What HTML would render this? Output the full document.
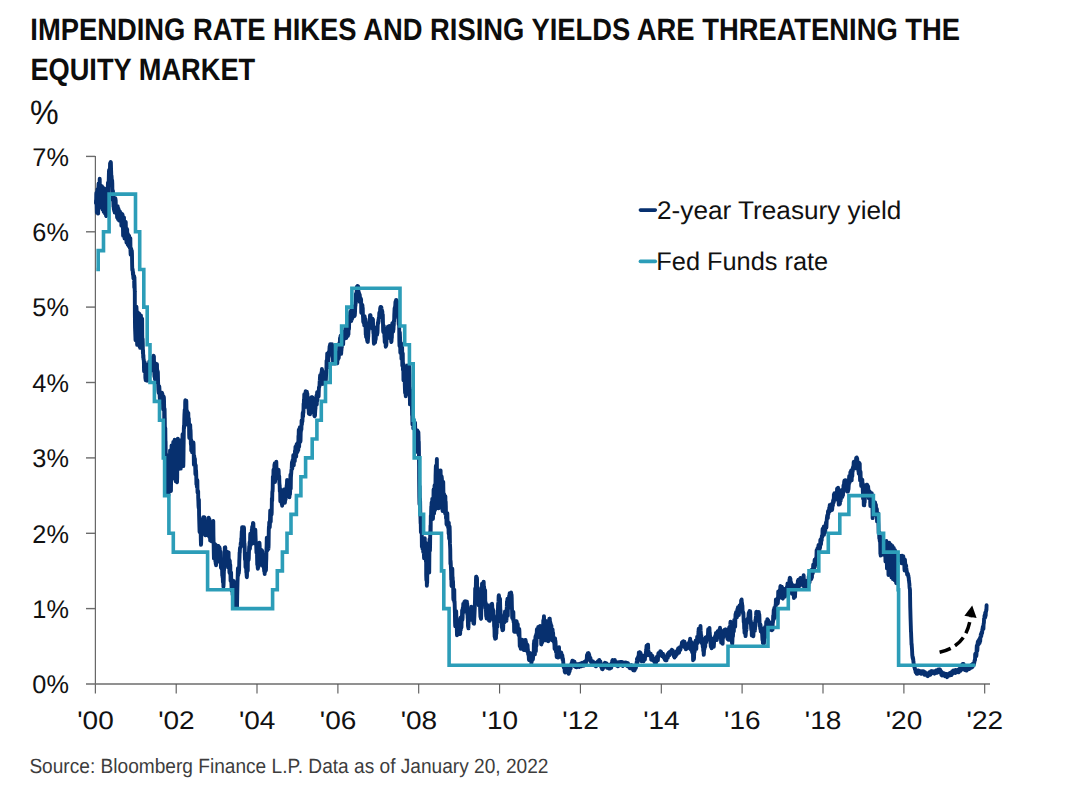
<!DOCTYPE html>
<html><head><meta charset="utf-8"><title>Chart</title>
<style>
html,body{margin:0;padding:0;background:#fff;}
body{width:1065px;height:796px;overflow:hidden;font-family:"Liberation Sans",sans-serif;}
svg{display:block;}
text{font-family:"Liberation Sans",sans-serif;fill:#111;text-rendering:geometricPrecision;}
.ttl{font-weight:bold;fill:#0d0d0d;}
.src{fill:#3d3d3d;}
.ax path{stroke:#6c6c6c;stroke-width:1.4;fill:none;}
.ax path.v{stroke:#575757;stroke-width:1.1;}
</style></head>
<body>
<svg width="1065" height="796" viewBox="0 0 1065 796">
<rect width="1065" height="796" fill="#ffffff"/>
<text class="ttl" x="30.35" y="40.40" style="font-size:31px" textLength="929.69" lengthAdjust="spacingAndGlyphs">IMPENDING RATE HIKES AND RISING YIELDS ARE THREATENING THE</text>
<text class="ttl" x="30.38" y="79.90" style="font-size:31px" textLength="224.86" lengthAdjust="spacingAndGlyphs">EQUITY MARKET</text>
<text class="" x="30.10" y="124.30" style="font-size:34px" textLength="28.64" lengthAdjust="spacingAndGlyphs">%</text>
<g class="ax"><path class="v" d="M95.35000000000001 156.1 V693.4" /><path d="M86 683.95 H990" /><path d="M86 608.6 H95.2" /><path d="M86 533.3 H95.2" /><path d="M86 457.9 H95.2" /><path d="M86 382.5 H95.2" /><path d="M86 307.1 H95.2" /><path d="M86 231.8 H95.2" /><path d="M86 156.4 H95.2" /><path class="v" d="M176.2 684.0 V693.4" /><path class="v" d="M257.0 684.0 V693.4" /><path class="v" d="M337.9 684.0 V693.4" /><path class="v" d="M418.7 684.0 V693.4" /><path class="v" d="M499.6 684.0 V693.4" /><path class="v" d="M580.4 684.0 V693.4" /><path class="v" d="M661.3 684.0 V693.4" /><path class="v" d="M742.1 684.0 V693.4" /><path class="v" d="M823.0 684.0 V693.4" /><path class="v" d="M903.9 684.0 V693.4" /><path class="v" d="M984.7 684.0 V693.4" /></g>
<g><text class="lbl" x="32.35" y="693.3" style="font-size:25.6px" textLength="36.55" lengthAdjust="spacingAndGlyphs">0%</text><text class="lbl" x="32.35" y="617.9" style="font-size:25.6px" textLength="36.55" lengthAdjust="spacingAndGlyphs">1%</text><text class="lbl" x="32.35" y="542.6" style="font-size:25.6px" textLength="36.55" lengthAdjust="spacingAndGlyphs">2%</text><text class="lbl" x="32.35" y="467.2" style="font-size:25.6px" textLength="36.55" lengthAdjust="spacingAndGlyphs">3%</text><text class="lbl" x="32.35" y="391.8" style="font-size:25.6px" textLength="36.55" lengthAdjust="spacingAndGlyphs">4%</text><text class="lbl" x="32.35" y="316.4" style="font-size:25.6px" textLength="36.55" lengthAdjust="spacingAndGlyphs">5%</text><text class="lbl" x="32.35" y="241.1" style="font-size:25.6px" textLength="36.55" lengthAdjust="spacingAndGlyphs">6%</text><text class="lbl" x="32.35" y="165.7" style="font-size:25.6px" textLength="36.55" lengthAdjust="spacingAndGlyphs">7%</text><text class="lbl" x="95.5" y="729.1" style="font-size:25.6px" text-anchor="middle" textLength="36.50" lengthAdjust="spacingAndGlyphs">&#39;00</text><text class="lbl" x="176.4" y="729.1" style="font-size:25.6px" text-anchor="middle" textLength="36.50" lengthAdjust="spacingAndGlyphs">&#39;02</text><text class="lbl" x="257.2" y="729.1" style="font-size:25.6px" text-anchor="middle" textLength="36.50" lengthAdjust="spacingAndGlyphs">&#39;04</text><text class="lbl" x="338.1" y="729.1" style="font-size:25.6px" text-anchor="middle" textLength="36.50" lengthAdjust="spacingAndGlyphs">&#39;06</text><text class="lbl" x="418.9" y="729.1" style="font-size:25.6px" text-anchor="middle" textLength="36.50" lengthAdjust="spacingAndGlyphs">&#39;08</text><text class="lbl" x="499.8" y="729.1" style="font-size:25.6px" text-anchor="middle" textLength="36.50" lengthAdjust="spacingAndGlyphs">&#39;10</text><text class="lbl" x="580.6" y="729.1" style="font-size:25.6px" text-anchor="middle" textLength="36.50" lengthAdjust="spacingAndGlyphs">&#39;12</text><text class="lbl" x="661.4" y="729.1" style="font-size:25.6px" text-anchor="middle" textLength="36.50" lengthAdjust="spacingAndGlyphs">&#39;14</text><text class="lbl" x="742.3" y="729.1" style="font-size:25.6px" text-anchor="middle" textLength="36.50" lengthAdjust="spacingAndGlyphs">&#39;16</text><text class="lbl" x="823.1" y="729.1" style="font-size:25.6px" text-anchor="middle" textLength="36.50" lengthAdjust="spacingAndGlyphs">&#39;18</text><text class="lbl" x="904.0" y="729.1" style="font-size:25.6px" text-anchor="middle" textLength="36.50" lengthAdjust="spacingAndGlyphs">&#39;20</text><text class="lbl" x="984.8" y="729.1" style="font-size:25.6px" text-anchor="middle" textLength="36.50" lengthAdjust="spacingAndGlyphs">&#39;22</text></g>
<path d="M95.93 203.1 L96.06 200.2 L96.18 201.6 L96.31 194.2 L96.45 192.6 L96.59 199.5 L96.73 207.5 L96.88 212.8 L97.02 202.8 L97.16 193.0 L97.30 193.9 L97.44 189.2 L97.58 201.4 L97.72 207.0 L97.87 207.8 L98.01 209.6 L98.15 213.6 L98.29 199.0 L98.43 186.5 L98.57 183.5 L98.71 189.7 L98.85 194.2 L99.00 200.6 L99.14 207.7 L99.28 204.1 L99.42 200.4 L99.56 191.4 L99.70 178.8 L99.84 187.2 L99.99 187.5 L100.13 196.3 L100.27 204.1 L100.41 196.8 L100.55 189.8 L100.69 187.8 L100.83 187.9 L100.98 195.8 L101.12 201.7 L101.26 197.9 L101.40 204.9 L101.54 202.3 L101.68 196.1 L101.82 192.6 L101.97 186.2 L102.11 187.6 L102.25 197.3 L102.39 198.9 L102.53 209.4 L102.67 203.2 L102.81 200.3 L102.95 193.3 L103.10 187.7 L103.24 192.0 L103.38 202.3 L103.52 205.6 L103.66 211.8 L103.80 210.2 L103.94 202.4 L104.09 191.6 L104.23 188.5 L104.37 197.1 L104.51 208.7 L104.65 208.8 L104.79 213.3 L104.93 210.9 L105.08 204.6 L105.22 198.5 L105.36 191.1 L105.50 194.9 L105.64 197.1 L105.78 203.9 L105.92 214.2 L106.08 215.8 L106.24 216.0 L106.39 213.5 L106.55 208.3 L106.71 207.0 L106.87 202.1 L107.02 200.6 L107.18 193.5 L107.34 200.3 L107.49 195.2 L107.65 194.7 L107.81 188.0 L107.97 182.6 L108.13 191.9 L108.29 192.8 L108.45 185.4 L108.62 183.2 L108.78 178.5 L108.94 172.1 L109.10 169.9 L109.26 170.8 L109.42 173.9 L109.59 172.9 L109.75 169.0 L109.91 172.0 L110.07 163.3 L110.23 168.2 L110.39 172.5 L110.56 169.3 L110.72 161.9 L110.88 162.6 L111.04 168.7 L111.20 172.9 L111.36 181.7 L111.52 175.6 L111.67 177.9 L111.83 182.8 L111.99 182.7 L112.14 180.3 L112.31 183.9 L112.47 198.6 L112.63 200.0 L112.79 191.6 L112.95 190.9 L113.11 194.7 L113.28 200.1 L113.45 206.7 L113.62 203.2 L113.79 209.3 L113.96 204.3 L114.13 210.8 L114.30 204.4 L114.47 207.1 L114.65 212.5 L114.82 211.6 L114.99 209.7 L115.16 202.7 L115.34 198.3 L115.51 199.3 L115.69 200.5 L115.87 207.3 L116.04 206.2 L116.22 211.8 L116.40 211.2 L116.57 209.1 L116.75 210.8 L116.93 213.5 L117.10 217.4 L117.28 212.8 L117.46 212.0 L117.63 206.1 L117.81 218.9 L117.99 218.0 L118.17 219.2 L118.34 214.8 L118.52 208.8 L118.70 213.2 L118.88 215.7 L119.06 220.5 L119.23 217.7 L119.41 211.1 L119.59 211.5 L119.77 211.2 L119.95 215.1 L120.12 215.8 L120.30 219.5 L120.48 217.5 L120.66 212.8 L120.84 213.4 L121.01 213.9 L121.19 217.1 L121.37 225.6 L121.54 216.3 L121.72 214.5 L121.89 219.6 L122.07 215.0 L122.24 214.5 L122.42 214.4 L122.59 215.0 L122.77 223.8 L122.94 227.0 L123.12 235.7 L123.29 229.3 L123.47 221.8 L123.64 223.9 L123.82 217.7 L123.99 217.6 L124.17 228.2 L124.34 233.0 L124.52 238.5 L124.69 236.1 L124.87 230.3 L125.04 232.1 L125.22 231.0 L125.39 227.2 L125.57 222.7 L125.74 222.0 L125.92 229.8 L126.09 236.8 L126.27 234.0 L126.45 242.5 L126.63 241.6 L126.81 236.9 L126.98 229.0 L127.16 229.6 L127.34 241.0 L127.52 241.8 L127.70 244.6 L127.87 233.8 L128.05 234.8 L128.23 235.6 L128.41 241.4 L128.59 245.9 L128.76 235.9 L128.94 235.5 L129.12 235.9 L129.30 238.6 L129.47 239.3 L129.64 242.1 L129.81 247.9 L129.98 241.6 L130.15 238.8 L130.33 238.1 L130.50 251.1 L130.67 254.6 L130.84 250.3 L131.01 250.3 L131.18 248.6 L131.34 252.6 L131.50 253.0 L131.65 253.8 L131.81 250.7 L131.97 253.5 L132.13 264.6 L132.29 270.3 L132.46 269.9 L132.62 269.1 L132.79 271.2 L132.95 274.6 L133.11 272.1 L133.28 276.2 L133.44 278.5 L133.61 276.8 L133.77 276.2 L133.94 275.8 L134.10 276.2 L134.27 287.5 L134.43 277.1 L134.60 283.8 L134.76 291.2 L134.81 291.8 L134.86 313.7 L135.03 327.1 L135.19 331.4 L135.35 335.4 L135.52 340.1 L135.67 333.3 L135.82 335.9 L135.97 325.5 L136.12 312.5 L136.27 311.6 L136.42 306.7 L136.57 309.3 L136.72 330.6 L136.88 338.7 L137.03 341.7 L137.18 344.9 L137.33 341.8 L137.48 337.2 L137.63 316.1 L137.78 312.3 L137.93 313.3 L138.08 329.2 L138.23 324.7 L138.38 340.8 L138.53 342.1 L138.69 334.2 L138.84 327.0 L138.99 322.4 L139.14 314.3 L139.29 313.7 L139.44 328.9 L139.59 346.7 L139.74 332.0 L139.89 334.7 L140.04 340.7 L140.19 347.9 L140.34 342.0 L140.49 327.6 L140.65 329.4 L140.80 320.3 L140.95 315.5 L141.10 320.9 L141.25 328.2 L141.40 336.2 L141.55 343.8 L141.69 335.7 L141.83 332.6 L141.97 322.8 L142.12 318.6 L142.24 335.5 L142.37 342.8 L142.49 346.8 L142.63 338.7 L142.78 343.4 L142.92 353.5 L143.06 350.0 L143.22 357.8 L143.39 354.8 L143.55 359.6 L143.72 359.1 L143.88 362.1 L144.05 371.3 L144.21 365.5 L144.38 368.9 L144.54 367.4 L144.71 362.2 L144.87 371.8 L145.04 365.0 L145.20 367.3 L145.37 378.0 L145.53 378.9 L145.70 380.2 L145.88 379.5 L146.05 380.2 L146.23 377.8 L146.41 368.6 L146.59 370.0 L146.77 370.9 L146.95 371.5 L147.13 380.8 L147.30 375.4 L147.48 367.0 L147.66 365.8 L147.84 365.3 L148.02 366.0 L148.20 364.3 L148.38 377.7 L148.55 374.7 L148.73 376.6 L148.91 376.1 L149.09 366.6 L149.26 361.5 L149.44 366.6 L149.61 374.7 L149.78 369.9 L149.95 368.5 L150.13 365.9 L150.30 367.5 L150.47 371.1 L150.65 365.6 L150.82 359.4 L150.99 358.2 L151.16 368.5 L151.34 370.0 L151.51 370.5 L151.68 368.9 L151.86 365.7 L152.03 358.5 L152.20 364.8 L152.37 358.6 L152.55 358.6 L152.72 361.9 L152.89 366.2 L153.06 357.9 L153.24 360.3 L153.41 356.1 L153.58 355.7 L153.75 356.4 L153.92 356.6 L154.09 370.5 L154.27 371.7 L154.44 376.8 L154.61 375.7 L154.78 371.0 L154.95 379.3 L155.12 367.5 L155.29 373.5 L155.46 375.2 L155.63 366.9 L155.79 370.7 L155.96 369.0 L156.13 363.7 L156.30 376.5 L156.46 382.1 L156.63 379.5 L156.80 374.8 L156.98 364.3 L157.15 376.9 L157.33 379.6 L157.50 370.5 L157.67 377.7 L157.85 371.7 L158.02 379.5 L158.20 385.1 L158.37 389.9 L158.54 391.8 L158.72 393.0 L158.89 389.8 L159.07 386.2 L159.24 386.2 L159.42 388.3 L159.59 393.1 L159.77 398.1 L159.94 398.9 L160.12 401.7 L160.29 401.0 L160.47 394.8 L160.64 398.7 L160.82 394.5 L160.99 401.4 L161.17 400.0 L161.34 398.4 L161.52 397.9 L161.69 394.3 L161.87 392.6 L162.04 398.4 L162.22 398.3 L162.39 393.7 L162.57 399.5 L162.74 398.4 L162.92 398.9 L163.09 409.2 L163.27 396.8 L163.44 397.6 L163.62 396.5 L163.79 397.1 L163.92 397.9 L164.04 400.8 L164.17 409.4 L164.31 426.2 L164.45 421.6 L164.59 408.8 L164.74 419.6 L164.78 417.8 L164.91 433.6 L165.03 427.0 L165.16 435.8 L165.30 428.1 L165.44 440.6 L165.58 441.6 L165.73 454.9 L165.89 453.5 L166.06 454.3 L166.22 466.7 L166.39 474.0 L166.55 472.8 L166.72 466.7 L166.88 463.6 L167.05 474.5 L167.21 492.4 L167.38 483.6 L167.55 477.8 L167.72 476.5 L167.88 474.0 L168.05 474.6 L168.22 481.1 L168.39 495.6 L168.55 492.2 L168.72 476.1 L168.89 478.5 L169.06 475.6 L169.22 463.4 L169.39 455.9 L169.56 457.0 L169.73 462.4 L169.89 460.1 L170.06 450.4 L170.21 457.0 L170.36 467.1 L170.51 473.8 L170.66 490.5 L170.82 490.2 L170.97 491.1 L171.12 474.7 L171.27 473.8 L171.42 458.8 L171.57 445.4 L171.72 449.9 L171.87 446.8 L172.02 451.3 L172.17 478.7 L172.32 478.2 L172.48 478.6 L172.64 475.2 L172.79 468.1 L172.95 464.8 L173.11 451.5 L173.27 442.0 L173.42 455.4 L173.57 456.0 L173.72 452.7 L173.87 462.0 L174.02 472.4 L174.17 468.4 L174.32 456.1 L174.47 444.1 L174.62 439.7 L174.77 442.1 L174.92 450.1 L175.08 456.5 L175.23 462.1 L175.38 470.3 L175.53 476.8 L175.68 481.3 L175.83 456.3 L175.98 461.2 L176.13 450.9 L176.28 440.4 L176.43 464.8 L176.58 463.3 L176.73 481.2 L176.89 482.0 L177.04 482.3 L177.19 476.9 L177.34 450.9 L177.49 447.8 L177.64 443.5 L177.79 438.6 L177.95 454.1 L178.10 453.7 L178.26 455.0 L178.42 458.8 L178.58 459.8 L178.73 469.0 L178.88 462.2 L179.03 460.6 L179.18 451.3 L179.34 446.7 L179.49 440.1 L179.64 445.7 L179.80 445.6 L179.96 454.2 L180.11 454.2 L180.27 458.3 L180.43 467.7 L180.58 455.7 L180.73 468.6 L180.88 458.5 L181.03 450.8 L181.18 443.0 L181.34 455.0 L181.50 462.8 L181.65 462.4 L181.81 454.6 L181.97 457.5 L182.13 466.3 L182.27 456.6 L182.41 444.0 L182.55 434.2 L182.69 434.8 L182.84 436.5 L182.99 438.8 L183.14 445.4 L183.29 466.1 L183.44 460.6 L183.57 449.1 L183.70 440.6 L183.82 428.9 L183.97 425.5 L184.12 428.3 L184.27 420.4 L184.43 414.9 L184.58 412.4 L184.73 409.5 L184.89 416.0 L185.05 415.5 L185.20 402.5 L185.36 400.2 L185.52 400.8 L185.68 405.6 L185.84 407.7 L186.00 413.2 L186.16 411.4 L186.33 400.8 L186.49 409.5 L186.65 413.3 L186.81 417.8 L186.97 410.6 L187.13 415.6 L187.30 414.6 L187.46 414.9 L187.62 421.7 L187.78 424.9 L187.95 420.6 L188.13 413.6 L188.30 412.8 L188.48 422.6 L188.65 424.6 L188.82 418.4 L189.00 423.1 L189.17 435.2 L189.35 438.1 L189.52 435.0 L189.69 426.4 L189.87 425.7 L190.04 429.0 L190.20 424.9 L190.37 429.5 L190.53 429.8 L190.69 434.6 L190.85 443.7 L191.01 444.9 L191.17 439.6 L191.22 450.5 L191.39 441.9 L191.56 444.6 L191.72 449.5 L191.89 443.0 L192.06 452.2 L192.22 447.7 L192.39 449.2 L192.56 445.8 L192.72 444.2 L192.89 442.7 L193.06 442.8 L193.23 444.1 L193.39 442.4 L193.56 444.4 L193.73 453.7 L193.90 464.8 L194.06 455.4 L194.23 456.2 L194.40 462.7 L194.57 458.2 L194.73 463.6 L194.90 458.8 L195.07 464.9 L195.24 467.8 L195.40 474.3 L195.57 473.6 L195.74 465.2 L195.91 472.1 L196.07 470.1 L196.24 474.9 L196.40 484.2 L196.56 484.5 L196.72 479.0 L196.88 486.9 L197.04 485.8 L197.21 481.5 L197.36 480.5 L197.52 492.5 L197.68 489.8 L197.83 491.8 L197.99 491.1 L198.15 491.2 L198.20 497.6 L198.38 501.1 L198.55 506.2 L198.73 508.2 L198.91 499.6 L199.09 515.3 L199.25 521.3 L199.41 526.8 L199.58 532.0 L199.74 525.8 L199.90 522.7 L200.06 527.2 L200.22 531.2 L200.37 526.5 L200.52 530.4 L200.67 530.9 L200.82 539.8 L200.98 544.9 L201.14 543.1 L201.31 533.1 L201.48 534.5 L201.65 532.4 L201.81 523.4 L201.98 531.6 L202.15 527.0 L202.32 530.5 L202.48 524.5 L202.65 528.9 L202.83 518.8 L203.00 527.5 L203.17 518.8 L203.34 517.3 L203.51 517.4 L203.68 518.7 L203.85 517.7 L204.03 519.5 L204.20 519.1 L204.37 517.6 L204.54 517.4 L204.70 525.6 L204.87 521.8 L205.04 534.7 L205.21 535.3 L205.37 534.5 L205.54 535.2 L205.71 530.1 L205.88 533.7 L206.05 533.3 L206.22 526.9 L206.39 530.6 L206.56 530.0 L206.72 530.4 L206.89 532.2 L207.06 529.9 L207.23 535.0 L207.40 528.3 L207.57 525.5 L207.73 529.3 L207.89 529.7 L208.04 533.3 L208.20 523.5 L208.36 527.2 L208.52 519.9 L208.68 517.7 L208.84 520.5 L209.00 535.5 L209.16 536.8 L209.32 531.6 L209.48 519.3 L209.65 530.8 L209.81 525.2 L209.98 530.6 L210.15 540.4 L210.32 540.2 L210.48 533.0 L210.65 533.7 L210.82 532.9 L210.99 540.9 L211.15 538.9 L211.32 541.3 L211.48 531.6 L211.65 538.6 L211.81 532.3 L211.98 522.6 L212.14 526.2 L212.31 528.1 L212.47 524.2 L212.64 530.4 L212.80 535.7 L212.96 530.0 L213.12 521.7 L213.28 521.0 L213.44 536.1 L213.61 542.7 L213.77 552.3 L213.93 558.5 L214.10 557.9 L214.26 543.5 L214.43 549.2 L214.59 550.8 L214.76 549.4 L214.92 548.5 L215.09 544.1 L215.25 550.8 L215.41 561.7 L215.57 559.0 L215.73 563.9 L215.89 560.7 L216.06 565.2 L216.22 557.7 L216.39 560.7 L216.56 557.8 L216.73 558.5 L216.89 552.7 L217.06 545.6 L217.23 545.9 L217.40 552.8 L217.56 551.2 L217.73 552.1 L217.90 555.7 L218.07 557.6 L218.23 556.9 L218.40 545.9 L218.57 551.4 L218.74 547.2 L218.90 557.6 L219.07 556.5 L219.24 561.6 L219.41 547.1 L219.58 554.2 L219.75 548.2 L219.92 558.0 L220.09 558.1 L220.26 556.9 L220.43 553.4 L220.60 551.8 L220.77 562.5 L220.93 567.7 L221.10 566.4 L221.26 561.6 L221.43 560.1 L221.59 560.4 L221.76 559.4 L221.92 569.5 L222.09 569.5 L222.26 575.7 L222.42 568.6 L222.59 577.5 L222.76 577.4 L222.93 582.1 L223.09 580.8 L223.26 576.6 L223.43 587.0 L223.60 583.9 L223.75 579.1 L223.90 570.5 L224.05 570.4 L224.20 565.1 L224.35 564.1 L224.50 563.4 L224.65 555.8 L224.80 547.4 L224.95 553.7 L225.10 551.8 L225.27 547.2 L225.44 553.9 L225.61 556.6 L225.77 557.9 L225.94 559.9 L226.11 557.2 L226.28 559.4 L226.44 563.4 L226.61 558.8 L226.77 556.3 L226.93 558.2 L227.10 551.6 L227.26 555.1 L227.42 554.4 L227.58 555.1 L227.74 552.5 L227.91 557.2 L228.08 567.4 L228.25 562.0 L228.41 556.8 L228.58 552.4 L228.75 562.2 L228.92 563.2 L229.08 559.2 L229.25 565.6 L229.42 571.9 L229.59 573.0 L229.75 560.7 L229.92 564.4 L230.09 570.8 L230.26 564.8 L230.42 573.4 L230.59 580.9 L230.76 576.4 L230.93 575.6 L231.09 572.5 L231.26 580.0 L231.43 584.5 L231.60 588.6 L231.76 590.9 L231.93 585.9 L232.10 582.3 L232.27 580.1 L232.43 583.1 L232.60 594.7 L232.77 588.7 L232.94 591.3 L233.10 591.6 L233.27 583.1 L233.44 582.6 L233.61 580.9 L233.77 592.3 L233.94 590.8 L234.10 596.5 L234.27 601.8 L234.43 602.9 L234.60 595.5 L234.76 594.5 L234.93 592.5 L235.09 596.9 L235.26 605.5 L235.42 606.0 L235.59 606.0 L235.75 604.0 L235.92 607.5 L236.08 607.2 L236.25 606.8 L236.41 604.0 L236.57 600.8 L236.73 601.8 L236.89 598.4 L237.04 607.1 L237.20 596.8 L237.36 588.7 L237.51 582.5 L237.67 577.8 L237.83 570.7 L237.98 568.2 L238.14 575.6 L238.30 573.5 L238.46 570.5 L238.62 570.6 L238.78 573.3 L238.95 571.2 L239.11 569.9 L239.27 561.3 L239.43 558.1 L239.60 552.4 L239.76 552.7 L239.93 548.4 L240.10 547.8 L240.27 547.8 L240.44 546.9 L240.60 545.4 L240.77 542.8 L240.94 546.7 L241.11 544.8 L241.27 538.2 L241.44 540.6 L241.61 534.7 L241.78 531.2 L241.94 535.0 L242.11 527.3 L242.28 527.4 L242.45 534.1 L242.60 528.1 L242.76 531.3 L242.92 528.1 L243.07 527.3 L243.23 528.1 L243.39 527.9 L243.55 530.4 L243.70 532.9 L243.86 527.2 L244.02 528.3 L244.17 537.8 L244.33 544.8 L244.50 543.5 L244.66 547.0 L244.83 554.9 L244.99 559.7 L245.16 553.8 L245.32 557.0 L245.49 567.2 L245.65 564.0 L245.82 563.1 L245.98 564.5 L246.15 564.8 L246.31 572.5 L246.48 572.5 L246.64 575.1 L246.80 577.2 L246.97 575.8 L247.13 564.3 L247.29 557.5 L247.45 565.5 L247.62 565.3 L247.78 570.7 L247.94 553.4 L248.10 554.3 L248.27 558.6 L248.44 560.4 L248.60 559.7 L248.77 558.5 L248.94 552.7 L249.11 548.7 L249.27 546.1 L249.44 548.2 L249.61 542.0 L249.78 543.2 L249.95 548.7 L250.12 537.7 L250.29 533.8 L250.47 538.2 L250.64 535.8 L250.81 534.7 L250.98 544.8 L251.15 537.5 L251.32 540.9 L251.49 538.0 L251.66 534.9 L251.83 529.5 L252.00 530.5 L252.17 526.8 L252.34 538.3 L252.51 531.7 L252.68 532.3 L252.85 525.5 L253.02 523.0 L253.19 529.5 L253.36 523.4 L253.52 533.0 L253.69 536.3 L253.85 543.3 L254.02 540.6 L254.18 537.8 L254.34 533.3 L254.51 539.8 L254.67 535.6 L254.84 536.9 L255.00 535.8 L255.17 534.1 L255.33 529.7 L255.50 534.7 L255.66 539.3 L255.83 543.4 L255.99 544.9 L256.14 542.9 L256.30 547.7 L256.46 552.8 L256.61 548.1 L256.77 550.0 L256.93 545.0 L257.09 557.7 L257.24 564.8 L257.40 559.7 L257.56 563.4 L257.71 567.2 L257.87 568.7 L258.03 561.4 L258.19 563.1 L258.34 567.3 L258.50 562.8 L258.66 543.1 L258.82 546.8 L258.99 544.5 L259.16 545.0 L259.33 542.6 L259.49 542.9 L259.66 545.9 L259.83 557.3 L260.00 557.7 L260.16 552.7 L260.33 554.7 L260.50 549.8 L260.67 550.4 L260.84 558.7 L261.00 561.0 L261.17 564.8 L261.34 562.0 L261.51 550.9 L261.67 556.4 L261.84 550.3 L262.01 550.6 L262.18 555.4 L262.34 551.3 L262.51 554.2 L262.68 553.8 L262.85 564.8 L263.01 566.2 L263.18 563.5 L263.35 554.7 L263.52 558.5 L263.68 558.3 L263.85 567.6 L264.02 568.8 L264.19 571.5 L264.35 569.8 L264.52 569.7 L264.69 574.0 L264.85 563.1 L265.01 570.1 L265.17 571.6 L265.34 560.5 L265.50 563.6 L265.66 569.9 L265.82 565.1 L265.98 570.3 L266.14 562.6 L266.30 559.0 L266.47 549.4 L266.63 545.6 L266.79 537.8 L266.95 545.6 L267.12 543.0 L267.28 546.2 L267.45 550.4 L267.61 546.2 L267.78 537.5 L267.94 539.7 L268.11 537.0 L268.27 538.5 L268.44 548.9 L268.60 544.9 L268.77 531.1 L268.93 526.6 L269.10 527.3 L269.26 522.1 L269.43 525.1 L269.59 523.8 L269.75 527.3 L269.92 523.7 L270.08 515.3 L270.25 510.4 L270.41 510.9 L270.58 517.9 L270.74 521.8 L270.91 512.6 L271.07 515.2 L271.23 513.8 L271.39 513.2 L271.56 514.7 L271.72 512.4 L271.88 498.2 L272.04 501.0 L272.17 500.5 L272.29 493.1 L272.42 491.2 L272.57 491.3 L272.72 487.8 L272.87 476.6 L273.02 479.4 L273.17 481.4 L273.33 479.8 L273.49 469.8 L273.64 474.7 L273.80 477.7 L273.96 475.6 L274.11 472.7 L274.26 469.8 L274.42 464.8 L274.57 467.5 L274.72 463.5 L274.87 463.2 L275.03 482.0 L275.19 478.9 L275.35 475.2 L275.51 465.1 L275.68 469.9 L275.84 476.6 L276.00 474.7 L276.17 472.6 L276.33 461.7 L276.50 470.6 L276.67 468.9 L276.84 474.4 L277.00 478.4 L277.17 478.3 L277.34 475.5 L277.51 471.7 L277.68 469.9 L277.85 474.4 L278.02 469.4 L278.19 470.1 L278.36 475.9 L278.52 469.8 L278.69 471.5 L278.86 477.1 L279.03 478.0 L279.20 476.0 L279.36 482.0 L279.52 484.5 L279.67 485.3 L279.83 491.4 L279.99 488.0 L280.15 490.5 L280.31 501.3 L280.48 497.3 L280.65 498.8 L280.82 495.5 L280.98 495.9 L281.15 499.8 L281.32 499.6 L281.49 497.5 L281.65 503.8 L281.83 503.1 L282.00 503.9 L282.17 505.7 L282.34 493.2 L282.51 502.9 L282.68 499.0 L282.85 493.3 L283.03 492.0 L283.20 495.1 L283.37 498.2 L283.54 492.5 L283.71 494.3 L283.87 489.4 L284.04 490.4 L284.21 491.2 L284.38 498.9 L284.54 501.9 L284.71 499.4 L284.88 502.7 L285.05 501.1 L285.22 497.5 L285.39 499.0 L285.56 499.6 L285.73 497.1 L285.90 493.3 L286.08 491.1 L286.25 487.9 L286.42 492.8 L286.59 486.8 L286.76 485.0 L286.93 484.3 L287.10 479.9 L287.27 480.9 L287.43 480.2 L287.60 482.1 L287.77 481.3 L287.94 490.4 L288.11 482.5 L288.27 485.6 L288.44 484.1 L288.61 483.3 L288.78 483.7 L288.94 490.5 L289.11 490.2 L289.28 491.8 L289.45 497.2 L289.61 487.3 L289.78 487.0 L289.95 494.6 L290.11 492.1 L290.27 484.4 L290.43 474.8 L290.59 480.8 L290.76 488.8 L290.92 477.5 L291.08 475.2 L291.25 473.1 L291.41 470.2 L291.58 469.0 L291.75 467.2 L291.92 462.2 L292.08 465.6 L292.25 468.8 L292.42 466.4 L292.59 460.1 L292.76 464.7 L292.93 461.1 L293.10 462.6 L293.27 455.2 L293.44 459.5 L293.61 461.8 L293.77 465.4 L293.94 460.5 L294.11 459.9 L294.28 454.5 L294.46 458.4 L294.63 459.9 L294.80 461.3 L294.97 450.8 L295.15 451.0 L295.32 450.1 L295.49 446.7 L295.67 451.7 L295.84 455.7 L296.01 454.6 L296.18 456.8 L296.36 448.7 L296.53 444.9 L296.71 444.1 L296.88 448.8 L297.05 452.0 L297.23 449.3 L297.40 452.1 L297.58 443.7 L297.75 442.8 L297.92 450.4 L298.10 448.4 L298.27 450.2 L298.45 435.7 L298.62 437.1 L298.79 429.7 L298.97 439.2 L299.14 446.8 L299.32 438.7 L299.49 432.4 L299.66 428.7 L299.84 427.2 L300.01 433.4 L300.19 431.8 L300.36 441.8 L300.53 440.5 L300.71 432.3 L300.88 431.5 L301.06 428.3 L301.23 429.6 L301.41 429.5 L301.59 420.5 L301.75 424.8 L301.92 424.4 L302.08 420.6 L302.25 420.1 L302.41 421.7 L302.58 417.1 L302.74 412.7 L302.91 416.6 L303.08 416.5 L303.25 411.0 L303.42 413.0 L303.59 403.6 L303.76 406.1 L303.94 399.5 L304.11 400.3 L304.28 394.3 L304.45 402.8 L304.62 401.5 L304.79 399.8 L304.96 406.6 L305.14 399.9 L305.31 407.0 L305.48 399.9 L305.65 391.1 L305.82 403.3 L305.99 397.4 L306.16 400.1 L306.33 403.3 L306.51 391.7 L306.68 393.2 L306.84 391.6 L307.01 398.0 L307.17 398.7 L307.34 393.5 L307.50 398.4 L307.67 405.2 L307.83 404.0 L308.00 406.6 L308.16 405.1 L308.33 406.1 L308.50 409.0 L308.67 409.7 L308.83 413.5 L309.00 413.8 L309.17 413.3 L309.34 412.7 L309.51 412.9 L309.67 411.5 L309.84 409.5 L310.00 414.3 L310.16 411.4 L310.33 402.9 L310.49 402.2 L310.66 398.2 L310.82 400.9 L310.99 397.8 L311.16 406.0 L311.33 408.9 L311.49 397.9 L311.66 397.3 L311.83 397.8 L312.00 397.6 L312.17 397.5 L312.33 399.1 L312.49 397.4 L312.65 402.4 L312.80 406.4 L312.96 398.1 L313.12 399.4 L313.28 412.3 L313.44 410.8 L313.61 409.3 L313.78 405.4 L313.95 404.8 L314.11 403.9 L314.28 415.1 L314.45 415.9 L314.62 416.2 L314.78 410.1 L314.95 415.9 L315.12 412.7 L315.29 409.3 L315.45 408.9 L315.62 401.5 L315.79 401.7 L315.96 400.0 L316.12 405.1 L316.29 404.9 L316.46 395.5 L316.63 397.6 L316.79 404.5 L316.96 396.1 L317.13 392.1 L317.30 400.9 L317.46 399.2 L317.63 396.5 L317.80 396.0 L317.97 394.2 L318.13 391.5 L318.30 393.5 L318.47 394.9 L318.64 396.4 L318.80 391.3 L318.97 387.1 L319.14 387.2 L319.31 386.6 L319.47 386.0 L319.64 381.7 L319.81 380.4 L319.98 377.3 L320.15 375.1 L320.31 377.0 L320.48 382.4 L320.65 375.8 L320.82 375.5 L320.97 377.4 L321.13 375.9 L321.29 377.8 L321.44 372.2 L321.60 374.9 L321.76 372.7 L321.91 369.0 L322.07 369.9 L322.23 384.0 L322.39 376.5 L322.54 379.4 L322.70 381.7 L322.87 376.8 L323.03 383.9 L323.20 378.2 L323.36 372.8 L323.52 373.9 L323.69 382.0 L323.85 374.3 L324.02 378.2 L324.19 377.3 L324.35 374.2 L324.52 378.8 L324.69 378.3 L324.86 378.9 L325.03 378.9 L325.19 371.9 L325.36 380.5 L325.53 375.6 L325.70 380.3 L325.87 380.0 L326.04 375.9 L326.21 373.9 L326.38 371.5 L326.56 360.6 L326.73 362.3 L326.90 366.6 L327.07 357.7 L327.24 353.4 L327.41 364.1 L327.58 367.2 L327.76 356.3 L327.93 360.6 L328.10 359.7 L328.27 363.9 L328.44 358.9 L328.61 356.3 L328.78 351.9 L328.96 353.9 L329.13 352.8 L329.30 351.8 L329.47 348.7 L329.64 346.1 L329.81 351.5 L329.98 345.5 L330.15 344.2 L330.33 349.7 L330.50 346.4 L330.67 350.3 L330.84 352.4 L331.01 346.8 L331.18 347.5 L331.35 351.9 L331.51 350.5 L331.68 347.0 L331.84 349.0 L332.01 344.3 L332.17 347.7 L332.34 348.3 L332.50 354.7 L332.66 357.2 L332.83 354.0 L332.99 360.5 L333.15 363.6 L333.31 359.0 L333.47 362.3 L333.63 357.1 L333.81 351.9 L333.98 359.2 L334.16 362.9 L334.33 361.1 L334.50 361.1 L334.68 363.5 L334.85 363.5 L335.03 363.4 L335.20 360.8 L335.37 362.7 L335.55 362.9 L335.72 362.7 L335.90 361.8 L336.07 362.5 L336.25 358.0 L336.43 357.0 L336.60 358.2 L336.78 357.4 L336.96 357.8 L337.13 357.0 L337.31 363.2 L337.49 356.5 L337.66 355.4 L337.84 352.9 L338.02 353.5 L338.19 359.1 L338.37 353.9 L338.55 352.7 L338.72 358.1 L338.88 355.3 L339.04 350.9 L339.19 347.7 L339.35 343.5 L339.51 342.5 L339.67 348.7 L339.83 346.6 L339.99 338.0 L340.15 338.7 L340.31 338.1 L340.47 340.7 L340.63 335.6 L340.80 344.4 L340.97 353.9 L341.14 353.9 L341.31 350.8 L341.48 349.8 L341.64 338.4 L341.81 347.6 L341.98 339.0 L342.15 339.8 L342.32 332.6 L342.49 335.2 L342.67 340.2 L342.84 332.0 L343.02 333.8 L343.19 344.2 L343.37 333.7 L343.54 336.4 L343.72 338.2 L343.89 334.2 L344.07 333.4 L344.24 337.9 L344.42 338.8 L344.59 332.4 L344.77 334.2 L344.94 337.7 L345.11 337.3 L345.28 329.0 L345.45 328.4 L345.61 332.3 L345.78 330.5 L345.95 330.8 L346.12 334.3 L346.28 338.1 L346.45 336.7 L346.61 330.0 L346.77 332.9 L346.94 333.5 L347.10 323.4 L347.26 332.0 L347.42 321.0 L347.58 323.3 L347.76 334.3 L347.93 336.0 L348.11 331.8 L348.28 334.4 L348.46 334.2 L348.63 321.9 L348.81 323.8 L348.98 329.1 L349.16 323.3 L349.33 321.2 L349.51 317.0 L349.68 320.8 L349.86 315.6 L350.03 315.1 L350.21 312.2 L350.38 312.9 L350.56 316.6 L350.73 314.0 L350.91 310.8 L351.08 313.9 L351.26 321.0 L351.43 315.2 L351.61 312.7 L351.78 316.1 L351.96 319.1 L352.13 318.1 L352.31 311.0 L352.48 312.7 L352.66 316.8 L352.84 317.0 L353.01 308.8 L353.19 308.3 L353.36 307.5 L353.54 307.7 L353.72 306.5 L353.89 316.0 L354.07 311.5 L354.24 316.3 L354.42 316.1 L354.59 313.5 L354.77 315.7 L354.95 313.4 L355.12 309.4 L355.28 305.7 L355.45 305.9 L355.61 302.2 L355.77 303.4 L355.93 293.7 L356.09 299.1 L356.25 297.7 L356.40 300.2 L356.56 294.6 L356.71 289.6 L356.86 286.7 L357.01 286.9 L357.17 289.6 L357.33 287.7 L357.49 285.9 L357.65 289.6 L357.82 293.2 L357.98 286.3 L358.14 289.9 L358.30 286.8 L358.47 295.9 L358.63 298.4 L358.80 298.3 L358.96 292.5 L359.13 297.7 L359.29 295.0 L359.46 294.6 L359.62 301.7 L359.79 294.7 L359.95 301.6 L360.12 301.3 L360.28 297.6 L360.45 300.1 L360.61 298.1 L360.78 301.8 L360.94 300.7 L361.10 299.2 L361.26 312.7 L361.42 309.0 L361.59 313.0 L361.75 312.1 L361.91 312.5 L362.08 309.4 L362.24 307.7 L362.41 305.0 L362.58 308.6 L362.75 307.8 L362.91 314.8 L363.08 317.7 L363.25 322.0 L363.42 319.8 L363.58 322.7 L363.75 321.4 L363.92 318.9 L364.09 321.8 L364.25 325.4 L364.42 319.0 L364.59 316.2 L364.76 318.9 L364.92 323.4 L365.09 324.6 L365.26 318.7 L365.43 325.0 L365.59 328.4 L365.76 334.8 L365.93 332.3 L366.10 337.0 L366.27 337.2 L366.43 331.6 L366.60 329.4 L366.77 330.6 L366.94 337.3 L367.10 340.5 L367.27 337.3 L367.44 341.6 L367.61 341.5 L367.77 342.0 L367.94 339.8 L368.10 337.5 L368.26 336.3 L368.43 331.8 L368.59 330.1 L368.75 329.9 L368.91 329.0 L369.07 327.7 L369.23 323.3 L369.39 321.0 L369.56 321.4 L369.72 318.5 L369.88 318.7 L370.04 315.2 L370.20 315.9 L370.36 317.8 L370.52 315.3 L370.67 321.6 L370.83 327.2 L370.99 327.3 L371.15 327.0 L371.31 327.5 L371.48 326.5 L371.64 319.3 L371.80 323.0 L371.97 325.7 L372.13 324.6 L372.30 322.3 L372.46 318.8 L372.63 328.9 L372.79 322.7 L372.95 319.4 L373.11 327.4 L373.27 329.9 L373.43 333.4 L373.60 333.0 L373.76 340.9 L373.93 343.7 L374.10 338.8 L374.27 342.6 L374.43 337.5 L374.60 333.8 L374.77 342.9 L374.94 342.4 L375.10 342.4 L375.27 339.2 L375.43 337.4 L375.59 339.9 L375.75 338.3 L375.91 334.3 L376.07 331.7 L376.23 334.3 L376.40 330.2 L376.57 331.0 L376.74 327.0 L376.90 329.5 L377.07 334.9 L377.24 332.9 L377.41 333.2 L377.58 330.5 L377.74 324.4 L377.91 322.3 L378.09 322.5 L378.26 323.4 L378.43 319.8 L378.60 321.8 L378.77 317.8 L378.94 318.0 L379.11 317.5 L379.28 312.8 L379.46 317.5 L379.63 315.5 L379.80 315.5 L379.97 314.5 L380.14 308.8 L380.31 307.9 L380.48 307.1 L380.66 311.3 L380.83 307.4 L381.00 307.3 L381.17 311.5 L381.34 307.1 L381.51 308.7 L381.67 309.9 L381.84 310.7 L382.00 314.4 L382.16 315.0 L382.32 311.2 L382.48 315.4 L382.64 314.6 L382.81 314.6 L382.97 322.4 L383.13 330.6 L383.29 332.1 L383.45 330.0 L383.61 325.6 L383.77 325.9 L383.94 332.7 L384.10 333.0 L384.26 327.9 L384.42 336.5 L384.58 338.0 L384.74 342.1 L384.91 338.3 L385.07 332.9 L385.24 334.0 L385.40 337.2 L385.57 339.3 L385.73 346.7 L385.90 343.4 L386.06 344.3 L386.23 345.7 L386.39 343.9 L386.56 339.3 L386.72 335.6 L386.89 329.8 L387.05 332.3 L387.21 335.1 L387.38 331.4 L387.54 334.3 L387.71 329.2 L387.87 326.8 L388.03 329.7 L388.19 331.6 L388.35 331.7 L388.51 329.0 L388.68 326.3 L388.84 331.7 L389.01 334.4 L389.18 329.6 L389.35 325.9 L389.51 329.4 L389.68 331.3 L389.85 328.3 L390.02 338.2 L390.18 331.0 L390.35 328.3 L390.51 332.6 L390.68 337.9 L390.84 331.1 L391.01 333.1 L391.17 341.2 L391.34 342.0 L391.50 341.1 L391.67 337.3 L391.83 337.9 L392.00 332.5 L392.16 325.6 L392.33 323.2 L392.49 326.7 L392.66 323.0 L392.82 328.6 L392.98 331.8 L393.15 331.6 L393.31 329.6 L393.47 329.6 L393.63 325.9 L393.79 325.5 L393.95 320.3 L394.12 322.4 L394.28 314.9 L394.45 311.6 L394.61 308.0 L394.78 311.8 L394.94 311.8 L395.11 306.6 L395.27 305.5 L395.44 301.8 L395.60 306.1 L395.77 304.4 L395.93 302.7 L396.10 299.9 L396.26 300.0 L396.43 305.7 L396.59 300.2 L396.75 301.0 L396.91 309.6 L397.06 311.5 L397.22 307.0 L397.38 313.5 L397.54 311.6 L397.70 314.7 L397.86 307.4 L398.02 302.2 L398.18 318.2 L398.34 316.4 L398.50 315.5 L398.67 323.7 L398.83 324.7 L399.00 324.0 L399.16 322.9 L399.33 340.5 L399.49 346.0 L399.66 334.1 L399.82 332.4 L399.99 336.7 L400.15 340.8 L400.32 352.7 L400.48 344.5 L400.65 345.8 L400.81 343.1 L400.98 346.5 L401.14 343.1 L401.31 349.3 L401.47 358.9 L401.64 353.4 L401.80 351.9 L401.97 354.9 L402.13 347.2 L402.30 365.8 L402.46 353.9 L402.62 359.0 L402.79 353.5 L402.95 370.0 L403.12 365.2 L403.28 363.5 L403.45 380.2 L403.61 375.3 L403.78 369.1 L403.94 373.2 L404.11 375.8 L404.27 371.7 L404.44 374.3 L404.60 376.1 L404.77 384.2 L404.93 389.3 L405.10 393.0 L405.26 386.2 L405.43 393.6 L405.59 389.5 L405.76 396.2 L405.92 391.0 L406.09 395.0 L406.25 389.4 L406.42 385.9 L406.58 392.2 L406.74 380.2 L406.90 374.5 L407.05 365.5 L407.21 373.7 L407.37 370.2 L407.53 380.6 L407.69 387.0 L407.86 372.7 L408.03 382.3 L408.20 378.0 L408.36 382.2 L408.53 368.4 L408.70 376.9 L408.87 380.2 L409.03 368.8 L409.18 366.1 L409.34 368.5 L409.49 375.4 L409.64 395.2 L409.79 387.5 L409.95 404.4 L410.11 394.5 L410.27 390.0 L410.43 393.6 L410.60 392.0 L410.76 390.9 L410.92 395.4 L411.08 402.4 L411.25 401.4 L411.41 403.9 L411.58 402.4 L411.74 403.0 L411.91 403.2 L412.07 415.2 L412.24 411.1 L412.40 424.4 L412.55 418.4 L412.71 424.9 L412.87 412.0 L413.02 413.3 L413.18 419.2 L413.28 428.4 L413.45 426.8 L413.63 422.5 L413.81 425.9 L413.98 424.1 L414.16 428.1 L414.34 428.1 L414.51 423.4 L414.69 425.3 L414.87 429.5 L415.04 422.6 L415.22 428.9 L415.40 439.6 L415.57 439.3 L415.75 432.3 L415.93 437.6 L416.10 434.0 L416.28 440.1 L416.45 445.1 L416.63 451.9 L416.80 444.9 L416.98 431.6 L417.15 430.9 L417.33 430.4 L417.50 433.1 L417.68 431.4 L417.85 437.6 L418.03 438.1 L418.20 449.6 L418.38 432.0 L418.55 436.8 L418.68 446.9 L418.80 441.5 L418.93 450.8 L418.98 456.2 L419.03 463.1 L419.08 466.4 L419.13 479.7 L419.31 497.4 L419.47 504.2 L419.63 486.2 L419.79 500.0 L419.95 498.2 L420.12 501.3 L420.28 512.7 L420.44 516.9 L420.60 523.4 L420.75 521.8 L420.91 532.3 L421.07 523.6 L421.22 525.8 L421.38 528.8 L421.55 522.5 L421.71 529.6 L421.88 546.7 L422.04 543.4 L422.21 544.1 L422.37 541.5 L422.54 548.9 L422.70 542.3 L422.87 538.0 L423.04 540.9 L423.21 551.9 L423.39 547.1 L423.56 552.6 L423.73 552.7 L423.90 552.9 L424.07 558.3 L424.24 550.8 L424.41 538.7 L424.59 546.5 L424.75 538.1 L424.92 553.5 L425.09 556.5 L425.26 552.8 L425.42 555.8 L425.59 543.2 L425.76 542.8 L425.93 561.8 L426.09 548.5 L426.14 548.4 L426.19 575.2 L426.36 580.3 L426.52 569.5 L426.68 570.4 L426.85 585.7 L427.01 580.4 L427.17 583.1 L427.33 570.0 L427.49 565.6 L427.66 556.0 L427.82 564.7 L427.98 571.0 L428.14 570.1 L428.29 564.2 L428.45 563.6 L428.61 563.6 L428.76 557.1 L428.92 555.7 L429.07 567.5 L429.22 572.6 L429.37 554.3 L429.52 539.1 L429.67 544.6 L429.82 550.9 L429.96 550.4 L430.10 544.5 L430.24 531.3 L430.37 534.9 L430.49 525.4 L430.65 533.2 L430.82 515.5 L430.98 520.0 L431.14 511.1 L431.31 506.4 L431.47 507.1 L431.63 502.4 L431.80 517.9 L431.96 512.7 L432.12 507.3 L432.29 498.8 L432.45 504.9 L432.61 505.5 L432.78 513.4 L432.94 519.0 L433.10 515.4 L433.27 504.1 L433.43 498.8 L433.59 489.5 L433.76 497.4 L433.92 504.6 L434.08 513.4 L434.25 505.7 L434.41 489.8 L434.58 485.3 L434.74 503.2 L434.90 502.1 L435.07 510.0 L435.23 506.3 L435.39 487.5 L435.56 476.0 L435.72 470.4 L435.88 465.7 L436.05 477.2 L436.21 505.1 L436.37 495.0 L436.54 474.7 L436.70 470.3 L436.86 459.0 L437.03 481.4 L437.19 493.6 L437.35 507.1 L437.52 488.4 L437.68 482.8 L437.84 470.0 L438.01 485.0 L438.17 501.3 L438.33 504.5 L438.50 508.4 L438.66 503.4 L438.82 504.8 L438.99 479.1 L439.15 473.1 L439.31 476.7 L439.48 488.3 L439.64 503.1 L439.80 507.1 L439.97 505.2 L440.13 495.4 L440.29 480.4 L440.46 473.4 L440.62 470.5 L440.78 486.1 L440.95 493.5 L441.11 507.2 L441.27 507.6 L441.44 490.1 L441.60 476.3 L441.76 477.6 L441.93 479.0 L442.09 490.8 L442.25 503.2 L442.42 506.8 L442.58 511.0 L442.75 506.3 L442.91 494.0 L443.07 481.7 L443.24 482.0 L443.40 491.7 L443.56 504.3 L443.73 508.5 L443.89 500.4 L444.05 496.4 L444.22 494.3 L444.38 497.2 L444.54 497.9 L444.71 508.8 L444.87 512.6 L445.03 504.4 L445.20 513.6 L445.36 496.3 L445.52 508.5 L445.69 501.5 L445.85 506.5 L446.01 518.1 L446.18 516.3 L446.34 514.7 L446.50 524.3 L446.67 515.3 L446.83 515.0 L446.99 521.7 L447.16 525.1 L447.32 513.1 L447.48 518.7 L447.65 526.3 L447.81 524.1 L447.97 521.8 L448.14 525.0 L448.30 528.1 L448.46 524.2 L448.63 533.8 L448.79 522.6 L448.95 528.2 L449.12 538.5 L449.28 536.3 L449.44 539.3 L449.61 526.5 L449.77 531.5 L449.93 543.4 L450.10 546.4 L450.26 549.7 L450.42 564.1 L450.59 560.6 L450.75 563.3 L450.92 567.8 L451.08 571.1 L451.22 579.7 L451.35 575.8 L451.51 586.0 L451.68 581.0 L451.84 576.7 L452.00 570.5 L452.16 573.3 L452.32 568.7 L452.48 579.4 L452.65 577.0 L452.81 582.7 L452.98 580.9 L453.14 584.8 L453.31 597.8 L453.47 599.9 L453.64 596.9 L453.80 591.7 L453.96 600.6 L454.12 591.7 L454.27 589.6 L454.43 602.7 L454.59 601.2 L454.75 607.0 L454.91 612.8 L455.07 622.4 L455.23 626.2 L455.39 623.4 L455.55 617.1 L455.71 620.7 L455.88 621.2 L456.03 625.6 L456.19 611.1 L456.35 616.9 L456.50 620.7 L456.66 625.1 L456.82 629.0 L456.98 635.2 L457.13 628.5 L457.29 634.0 L457.45 625.8 L457.60 621.5 L457.76 634.1 L457.92 626.2 L458.08 624.8 L458.23 624.1 L458.39 629.0 L458.55 630.4 L458.70 626.6 L458.87 628.7 L459.03 625.3 L459.19 622.7 L459.35 621.3 L459.51 619.9 L459.67 624.3 L459.84 631.8 L460.00 633.2 L460.16 634.1 L460.32 621.1 L460.48 617.8 L460.64 630.3 L460.80 629.7 L460.97 622.6 L461.13 628.0 L461.30 621.4 L461.46 627.5 L461.63 620.1 L461.79 615.8 L461.96 618.3 L462.12 610.2 L462.29 612.1 L462.45 620.0 L462.62 617.3 L462.79 608.2 L462.96 607.3 L463.12 607.5 L463.29 603.7 L463.46 606.9 L463.63 612.1 L463.79 606.4 L463.96 610.8 L464.12 608.9 L464.29 607.0 L464.45 601.6 L464.62 606.9 L464.78 611.2 L464.95 604.6 L465.11 601.2 L465.28 604.0 L465.44 604.9 L465.61 610.7 L465.77 611.0 L465.94 608.6 L466.10 601.8 L466.27 608.5 L466.43 609.3 L466.59 605.0 L466.75 602.3 L466.90 601.6 L467.06 606.5 L467.22 603.6 L467.38 614.6 L467.53 612.8 L467.68 617.8 L467.83 619.2 L467.98 625.7 L468.13 626.9 L468.29 625.3 L468.45 628.4 L468.61 620.0 L468.78 619.0 L468.94 610.0 L469.10 610.0 L469.26 610.7 L469.43 609.8 L469.60 610.0 L469.76 609.8 L469.93 615.8 L470.10 617.9 L470.27 615.9 L470.43 612.1 L470.60 618.8 L470.77 619.8 L470.93 612.5 L471.10 610.5 L471.26 606.8 L471.43 614.0 L471.59 610.3 L471.76 608.5 L471.92 609.6 L472.09 610.2 L472.26 612.6 L472.42 612.2 L472.59 613.6 L472.76 619.0 L472.93 620.1 L473.09 616.9 L473.26 618.6 L473.43 623.2 L473.60 620.0 L473.76 618.0 L473.92 610.5 L474.08 623.7 L474.24 619.7 L474.40 616.4 L474.57 612.6 L474.73 609.0 L474.88 603.5 L475.03 599.6 L475.18 588.5 L475.33 595.3 L475.48 590.5 L475.64 596.9 L475.79 589.1 L475.95 580.5 L476.11 576.7 L476.27 581.0 L476.42 576.7 L476.58 579.0 L476.74 577.5 L476.89 577.8 L477.05 579.5 L477.21 591.7 L477.37 587.6 L477.52 590.5 L477.68 596.1 L477.84 592.4 L477.99 587.9 L478.15 601.0 L478.31 602.7 L478.47 604.6 L478.64 598.2 L478.80 605.4 L478.97 605.3 L479.13 602.1 L479.30 603.1 L479.46 594.7 L479.63 606.0 L479.79 599.1 L479.95 599.4 L480.11 609.2 L480.27 613.1 L480.44 616.9 L480.60 616.3 L480.76 615.6 L480.92 618.6 L481.07 618.8 L481.23 613.3 L481.39 609.1 L481.54 601.7 L481.70 600.5 L481.86 595.7 L482.02 583.6 L482.17 597.9 L482.33 598.5 L482.49 604.4 L482.64 593.9 L482.79 597.5 L482.95 596.3 L483.10 583.0 L483.25 582.7 L483.40 583.4 L483.55 581.7 L483.71 581.7 L483.87 591.2 L484.03 586.4 L484.18 588.0 L484.34 594.2 L484.50 595.9 L484.65 598.6 L484.81 596.0 L484.97 598.0 L485.13 590.2 L485.28 603.1 L485.45 608.3 L485.62 602.3 L485.79 604.1 L485.95 609.7 L486.12 615.2 L486.29 616.7 L486.46 612.1 L486.62 618.5 L486.79 612.9 L486.96 610.5 L487.13 608.5 L487.29 605.0 L487.46 606.2 L487.63 607.2 L487.80 611.3 L487.96 615.5 L488.13 613.5 L488.30 614.3 L488.47 615.1 L488.63 612.1 L488.80 614.2 L488.97 620.4 L489.14 618.2 L489.30 617.9 L489.47 613.2 L489.64 620.9 L489.81 619.7 L489.97 620.0 L490.13 611.1 L490.29 612.7 L490.45 615.9 L490.61 615.5 L490.78 614.6 L490.94 612.1 L491.10 604.5 L491.26 606.1 L491.42 612.6 L491.58 609.6 L491.75 607.0 L491.91 610.3 L492.07 603.8 L492.23 605.7 L492.38 615.2 L492.54 612.2 L492.70 608.6 L492.85 614.1 L493.01 614.3 L493.17 611.4 L493.33 616.2 L493.50 610.6 L493.66 619.9 L493.82 616.3 L493.98 618.4 L494.14 626.2 L494.31 627.2 L494.47 629.6 L494.64 636.7 L494.80 636.5 L494.97 634.6 L495.13 638.8 L495.30 629.1 L495.46 635.9 L495.62 638.0 L495.78 638.3 L495.95 638.2 L496.11 632.6 L496.27 626.8 L496.43 633.6 L496.59 625.1 L496.75 622.9 L496.91 625.7 L497.06 622.5 L497.22 626.4 L497.38 626.7 L497.54 615.3 L497.69 623.4 L497.85 618.9 L498.01 606.1 L498.16 603.1 L498.32 603.5 L498.48 601.9 L498.63 596.6 L498.78 595.3 L498.93 595.3 L499.08 597.1 L499.23 599.3 L499.39 603.3 L499.55 604.5 L499.70 607.6 L499.86 603.0 L500.02 598.8 L500.17 605.6 L500.34 610.8 L500.50 610.0 L500.66 617.8 L500.82 613.8 L500.98 618.9 L501.14 618.8 L501.31 620.1 L501.47 622.0 L501.64 622.7 L501.81 620.3 L501.98 627.9 L502.14 626.0 L502.31 628.1 L502.48 630.4 L502.65 624.6 L502.81 626.1 L502.98 624.3 L503.15 629.7 L503.32 623.5 L503.48 619.5 L503.65 620.1 L503.82 618.1 L503.99 622.8 L504.15 617.7 L504.32 622.4 L504.49 615.4 L504.66 617.5 L504.82 621.8 L504.99 611.5 L505.16 616.0 L505.33 618.8 L505.49 618.6 L505.66 619.7 L505.83 619.3 L505.99 612.2 L506.16 612.9 L506.32 616.4 L506.49 620.7 L506.65 609.5 L506.82 606.9 L506.98 601.4 L507.15 607.8 L507.31 600.7 L507.48 598.7 L507.64 605.7 L507.81 615.8 L507.97 599.6 L508.14 608.9 L508.30 600.8 L508.47 602.3 L508.63 603.6 L508.80 607.3 L508.96 601.8 L509.13 595.7 L509.29 596.0 L509.46 599.8 L509.62 593.2 L509.79 595.5 L509.95 596.5 L510.11 598.3 L510.27 598.9 L510.43 602.5 L510.60 605.8 L510.76 602.7 L510.92 602.2 L511.08 592.5 L511.24 594.6 L511.40 594.2 L511.57 594.9 L511.73 598.1 L511.89 606.1 L512.05 610.3 L512.21 617.9 L512.37 610.9 L512.53 613.3 L512.70 619.0 L512.86 613.2 L513.02 613.8 L513.18 614.6 L513.34 611.9 L513.50 620.2 L513.67 622.4 L513.83 622.1 L513.99 621.9 L514.15 631.4 L514.31 628.0 L514.47 631.8 L514.64 631.7 L514.80 627.1 L514.96 624.2 L515.12 628.4 L515.28 620.9 L515.44 624.7 L515.60 631.8 L515.77 630.4 L515.93 629.7 L516.09 629.7 L516.25 629.9 L516.41 627.6 L516.57 621.2 L516.74 622.1 L516.91 623.2 L517.08 629.1 L517.24 630.7 L517.41 628.0 L517.58 625.4 L517.75 624.1 L517.91 630.2 L518.08 633.1 L518.25 629.1 L518.42 630.5 L518.58 635.0 L518.75 632.6 L518.92 634.4 L519.09 633.3 L519.25 629.0 L519.42 631.6 L519.59 639.4 L519.76 646.1 L519.93 639.8 L520.09 643.2 L520.26 643.5 L520.43 643.0 L520.60 646.6 L520.76 648.8 L520.93 639.8 L521.10 644.8 L521.27 645.4 L521.44 641.7 L521.61 639.9 L521.78 641.4 L521.95 639.7 L522.13 644.1 L522.30 640.9 L522.47 647.9 L522.64 648.7 L522.81 648.6 L522.98 649.4 L523.15 649.6 L523.33 646.9 L523.50 649.0 L523.67 642.0 L523.84 644.6 L524.01 650.1 L524.18 640.2 L524.35 640.5 L524.53 644.5 L524.70 648.5 L524.87 646.4 L525.04 649.7 L525.20 640.2 L525.37 641.1 L525.54 639.9 L525.71 641.8 L525.87 641.5 L526.04 644.1 L526.21 645.8 L526.38 643.8 L526.54 645.3 L526.71 648.6 L526.88 644.1 L527.05 646.7 L527.21 647.9 L527.38 651.7 L527.55 645.0 L527.72 648.5 L527.88 649.4 L528.06 652.7 L528.23 654.5 L528.40 654.0 L528.57 655.3 L528.74 656.1 L528.91 659.6 L529.08 660.0 L529.25 652.7 L529.43 652.7 L529.60 657.7 L529.77 657.3 L529.94 654.2 L530.12 655.1 L530.29 654.7 L530.47 656.2 L530.64 654.6 L530.81 654.3 L530.99 656.1 L531.16 658.0 L531.34 663.5 L531.51 657.5 L531.68 654.1 L531.86 661.0 L532.03 661.3 L532.20 660.0 L532.37 653.4 L532.53 660.1 L532.70 652.9 L532.87 659.4 L533.04 658.0 L533.20 655.0 L533.37 652.9 L533.54 653.6 L533.71 653.6 L533.87 643.6 L534.04 643.2 L534.21 640.6 L534.38 646.3 L534.54 651.7 L534.71 642.7 L534.88 654.4 L535.05 649.7 L535.21 650.9 L535.38 637.8 L535.55 636.2 L535.72 644.2 L535.88 651.1 L536.05 637.9 L536.22 634.3 L536.39 645.9 L536.56 640.2 L536.72 633.3 L536.89 629.3 L537.06 634.6 L537.23 632.8 L537.39 632.9 L537.56 633.9 L537.73 632.0 L537.90 629.7 L538.06 631.3 L538.23 627.0 L538.40 634.8 L538.57 634.5 L538.73 637.1 L538.90 635.8 L539.07 635.0 L539.24 636.1 L539.40 630.8 L539.57 627.2 L539.73 629.8 L539.89 627.9 L540.06 625.9 L540.22 628.1 L540.38 631.5 L540.54 633.5 L540.70 636.7 L540.86 638.3 L541.03 635.8 L541.19 644.3 L541.35 644.4 L541.51 641.7 L541.67 638.1 L541.83 638.6 L541.99 635.8 L542.16 642.6 L542.32 629.4 L542.48 626.9 L542.64 630.4 L542.80 625.9 L542.96 628.2 L543.13 626.9 L543.29 620.4 L543.46 620.9 L543.62 619.1 L543.79 622.7 L543.95 616.1 L544.12 620.4 L544.28 619.2 L544.44 624.5 L544.60 625.2 L544.75 631.7 L544.91 634.6 L545.07 632.7 L545.23 640.4 L545.39 625.4 L545.55 633.0 L545.71 634.5 L545.87 638.6 L546.03 635.6 L546.20 635.0 L546.36 626.8 L546.51 621.6 L546.66 621.3 L546.81 621.5 L546.96 622.0 L547.11 623.9 L547.27 627.6 L547.43 631.1 L547.60 634.8 L547.76 634.1 L547.92 637.2 L548.08 633.5 L548.24 641.3 L548.40 635.4 L548.56 637.7 L548.71 631.9 L548.87 624.5 L549.03 630.8 L549.18 626.8 L549.34 618.8 L549.50 620.6 L549.66 619.7 L549.81 618.7 L549.97 624.0 L550.13 621.4 L550.29 622.7 L550.45 630.6 L550.61 623.2 L550.77 625.6 L550.94 630.3 L551.10 632.0 L551.26 630.4 L551.43 625.6 L551.59 638.3 L551.76 636.0 L551.93 634.4 L552.10 640.4 L552.26 630.1 L552.43 633.5 L552.60 629.5 L552.77 635.4 L552.93 634.5 L553.10 632.8 L553.27 637.2 L553.44 640.6 L553.60 641.0 L553.77 640.0 L553.94 642.4 L554.11 641.6 L554.27 642.2 L554.44 645.1 L554.61 648.9 L554.78 640.6 L554.94 638.3 L555.11 638.5 L555.28 644.0 L555.45 640.8 L555.61 643.5 L555.78 647.5 L555.95 651.9 L556.13 647.2 L556.30 650.4 L556.47 652.5 L556.64 656.5 L556.81 657.1 L556.98 656.5 L557.15 654.5 L557.32 653.2 L557.50 657.4 L557.67 656.5 L557.84 657.5 L558.01 657.0 L558.18 651.5 L558.35 656.6 L558.52 655.5 L558.69 654.7 L558.85 648.4 L559.02 647.2 L559.19 657.0 L559.36 652.8 L559.54 655.3 L559.71 655.5 L559.88 654.0 L560.05 653.4 L560.22 653.6 L560.39 654.7 L560.56 653.5 L560.73 653.9 L560.91 654.4 L561.08 656.2 L561.25 652.5 L561.42 653.6 L561.58 656.2 L561.75 655.5 L561.92 656.9 L562.09 657.1 L562.25 655.1 L562.42 656.3 L562.59 659.6 L562.76 659.9 L562.92 658.4 L563.09 660.1 L563.25 662.4 L563.42 664.7 L563.58 666.1 L563.75 667.6 L563.91 666.5 L564.08 668.1 L564.24 667.0 L564.41 667.6 L564.58 669.4 L564.75 671.9 L564.91 670.8 L565.08 672.5 L565.25 672.2 L565.42 671.2 L565.58 671.5 L565.75 669.2 L565.92 671.9 L566.09 669.7 L566.25 671.2 L566.42 669.4 L566.59 670.6 L566.76 668.5 L566.92 670.5 L567.09 669.0 L567.26 670.5 L567.43 672.0 L567.60 669.0 L567.77 668.7 L567.94 668.2 L568.11 671.0 L568.28 671.6 L568.45 673.4 L568.62 673.8 L568.79 673.7 L568.96 672.7 L569.13 671.0 L569.30 670.9 L569.47 671.2 L569.64 671.4 L569.81 669.8 L569.98 667.7 L570.15 666.6 L570.32 668.3 L570.49 665.3 L570.66 668.6 L570.83 665.3 L571.00 666.0 L571.18 665.2 L571.35 665.5 L571.52 663.2 L571.69 663.6 L571.87 663.1 L572.04 662.4 L572.21 661.2 L572.39 660.7 L572.56 662.0 L572.73 662.7 L572.91 663.0 L573.08 663.3 L573.26 661.0 L573.43 663.7 L573.61 663.5 L573.78 662.3 L573.96 662.0 L574.13 664.4 L574.31 664.4 L574.48 661.6 L574.66 666.2 L574.83 662.9 L575.01 664.9 L575.19 666.1 L575.36 666.1 L575.54 666.5 L575.71 666.9 L575.89 666.3 L576.07 664.9 L576.24 665.6 L576.42 667.4 L576.59 666.8 L576.77 666.8 L576.94 664.1 L577.12 665.4 L577.30 665.2 L577.47 664.9 L577.65 665.5 L577.83 664.7 L578.01 664.2 L578.18 664.6 L578.36 665.4 L578.54 664.1 L578.72 664.6 L578.90 666.0 L579.08 666.0 L579.26 667.0 L579.43 665.8 L579.61 663.9 L579.79 665.2 L579.97 664.0 L580.15 664.0 L580.33 664.8 L580.51 663.5 L580.68 665.7 L580.86 663.7 L581.04 664.5 L581.22 666.0 L581.40 666.3 L581.58 666.0 L581.76 663.2 L581.94 663.1 L582.12 663.1 L582.30 663.3 L582.48 662.8 L582.66 663.2 L582.84 663.1 L583.02 664.3 L583.20 665.0 L583.38 662.6 L583.55 662.9 L583.73 665.8 L583.91 665.4 L584.09 664.9 L584.27 665.6 L584.45 665.3 L584.63 661.7 L584.81 663.8 L584.97 662.9 L585.13 663.3 L585.30 663.2 L585.46 662.7 L585.62 665.1 L585.78 664.2 L585.94 661.1 L586.10 660.3 L586.27 661.2 L586.44 660.1 L586.61 661.4 L586.77 659.1 L586.94 655.6 L587.11 654.7 L587.28 656.3 L587.44 654.7 L587.61 656.0 L587.78 653.3 L587.94 654.9 L588.11 654.6 L588.27 653.3 L588.44 653.1 L588.60 653.3 L588.77 655.1 L588.93 654.1 L589.10 654.5 L589.27 655.2 L589.43 656.9 L589.60 657.3 L589.77 659.8 L589.94 657.4 L590.10 658.8 L590.27 658.7 L590.44 657.9 L590.61 659.4 L590.77 660.8 L590.94 662.1 L591.11 662.2 L591.28 660.4 L591.44 661.4 L591.61 662.4 L591.78 664.8 L591.95 663.3 L592.12 665.0 L592.29 664.0 L592.46 664.1 L592.63 665.0 L592.80 664.5 L592.97 661.5 L593.15 662.0 L593.32 664.5 L593.49 663.2 L593.66 665.0 L593.83 664.3 L594.00 663.4 L594.17 665.2 L594.35 663.2 L594.52 662.6 L594.69 662.8 L594.86 663.5 L595.03 664.5 L595.20 664.0 L595.37 664.0 L595.54 666.2 L595.72 665.7 L595.89 663.8 L596.06 665.0 L596.23 666.2 L596.40 664.3 L596.57 665.0 L596.74 664.4 L596.92 663.1 L597.09 664.3 L597.26 665.2 L597.43 662.7 L597.60 662.0 L597.77 661.5 L597.94 661.7 L598.12 664.2 L598.29 662.3 L598.46 662.9 L598.63 662.7 L598.80 662.3 L598.97 660.2 L599.14 661.9 L599.31 660.0 L599.49 661.6 L599.66 662.0 L599.83 662.7 L600.00 662.3 L600.17 661.8 L600.34 661.5 L600.51 663.1 L600.69 664.1 L600.86 665.3 L601.03 665.3 L601.20 667.2 L601.37 666.8 L601.53 667.5 L601.69 667.2 L601.86 667.6 L602.02 669.0 L602.18 667.8 L602.34 666.6 L602.50 668.8 L602.67 669.2 L602.85 668.7 L603.02 668.7 L603.19 666.1 L603.36 665.2 L603.53 666.0 L603.70 666.3 L603.87 664.4 L604.04 665.9 L604.22 664.0 L604.39 664.6 L604.56 663.1 L604.73 663.6 L604.90 663.4 L605.07 662.8 L605.24 663.3 L605.42 663.6 L605.59 664.0 L605.76 663.5 L605.93 663.2 L606.10 663.1 L606.27 663.1 L606.44 665.3 L606.62 666.1 L606.79 667.2 L606.96 667.8 L607.13 667.2 L607.30 667.3 L607.47 665.4 L607.64 667.8 L607.81 667.6 L607.99 666.7 L608.16 665.6 L608.33 665.3 L608.50 664.7 L608.67 667.9 L608.84 668.5 L609.01 667.1 L609.19 668.3 L609.36 668.4 L609.53 667.9 L609.70 668.1 L609.87 667.7 L610.04 667.9 L610.21 668.4 L610.39 668.2 L610.56 668.0 L610.73 667.8 L610.90 664.3 L611.07 665.1 L611.24 667.9 L611.41 664.4 L611.58 666.2 L611.76 662.9 L611.93 662.7 L612.09 663.6 L612.26 660.6 L612.43 661.7 L612.60 660.5 L612.77 660.0 L612.93 661.8 L613.10 661.2 L613.27 661.5 L613.44 660.6 L613.61 661.6 L613.78 663.9 L613.95 662.9 L614.12 662.0 L614.29 662.1 L614.46 663.3 L614.63 663.7 L614.81 660.0 L614.98 661.5 L615.15 663.1 L615.32 664.5 L615.49 664.7 L615.66 663.9 L615.83 662.2 L616.01 663.1 L616.18 661.9 L616.35 662.7 L616.52 662.1 L616.69 662.1 L616.86 665.6 L617.03 665.6 L617.21 665.7 L617.38 665.4 L617.55 665.0 L617.73 666.2 L617.90 665.9 L618.08 665.6 L618.25 664.7 L618.42 664.1 L618.60 662.3 L618.77 662.2 L618.95 665.4 L619.12 665.5 L619.29 662.2 L619.47 663.8 L619.64 663.8 L619.82 662.6 L619.99 662.1 L620.16 662.1 L620.34 662.6 L620.51 662.1 L620.69 662.0 L620.86 663.7 L621.03 662.7 L621.21 661.9 L621.38 662.4 L621.56 661.9 L621.73 663.3 L621.90 663.6 L622.08 664.7 L622.25 662.2 L622.43 664.2 L622.60 665.7 L622.77 666.0 L622.95 664.3 L623.12 662.7 L623.30 662.5 L623.47 662.6 L623.64 663.3 L623.82 664.6 L623.99 664.7 L624.17 664.1 L624.34 662.9 L624.51 663.2 L624.69 663.2 L624.86 663.3 L625.04 662.7 L625.21 663.2 L625.38 663.1 L625.56 662.6 L625.73 662.7 L625.91 664.5 L626.08 663.3 L626.25 663.7 L626.43 665.2 L626.61 662.7 L626.78 665.3 L626.96 664.8 L627.13 666.0 L627.31 664.4 L627.49 666.0 L627.66 665.6 L627.84 664.1 L628.01 663.2 L628.19 663.8 L628.36 663.9 L628.54 664.2 L628.72 666.3 L628.89 666.1 L629.07 666.9 L629.24 667.1 L629.42 667.7 L629.60 668.0 L629.77 667.8 L629.95 668.1 L630.12 668.0 L630.30 668.1 L630.48 666.8 L630.65 666.6 L630.83 665.9 L631.00 667.4 L631.18 668.3 L631.36 665.2 L631.53 666.6 L631.71 665.6 L631.88 665.4 L632.06 666.1 L632.24 666.9 L632.41 666.4 L632.59 666.0 L632.76 668.1 L632.94 669.9 L633.11 667.6 L633.29 666.5 L633.47 670.3 L633.64 670.0 L633.82 669.9 L633.99 669.6 L634.17 669.7 L634.34 670.4 L634.51 670.2 L634.67 670.1 L634.84 669.1 L635.01 666.2 L635.18 669.0 L635.34 665.2 L635.51 665.3 L635.68 666.3 L635.85 668.0 L636.01 666.9 L636.18 665.6 L636.35 664.3 L636.52 663.8 L636.68 662.2 L636.85 661.0 L637.02 658.6 L637.19 660.4 L637.35 660.4 L637.52 662.5 L637.69 661.5 L637.86 660.3 L638.02 657.1 L638.19 656.5 L638.36 656.5 L638.53 656.0 L638.69 655.6 L638.86 652.4 L639.03 653.0 L639.20 653.1 L639.36 653.3 L639.53 652.3 L639.70 655.0 L639.87 652.8 L640.04 652.3 L640.20 652.7 L640.37 652.7 L640.54 653.0 L640.71 657.4 L640.87 655.1 L641.04 657.9 L641.21 656.8 L641.38 657.9 L641.54 661.2 L641.71 658.7 L641.88 655.1 L642.05 656.5 L642.21 657.6 L642.38 658.9 L642.55 659.8 L642.72 658.4 L642.88 658.0 L643.05 660.7 L643.22 660.8 L643.39 660.5 L643.55 661.3 L643.72 660.7 L643.89 660.3 L644.06 658.0 L644.22 658.4 L644.39 655.8 L644.56 659.7 L644.73 657.9 L644.89 659.6 L645.06 656.9 L645.23 655.6 L645.40 656.8 L645.56 655.3 L645.73 654.1 L645.90 652.3 L646.07 651.1 L646.23 650.1 L646.40 648.1 L646.57 645.6 L646.74 646.6 L646.90 645.8 L647.07 648.5 L647.24 650.7 L647.41 651.1 L647.58 646.2 L647.74 644.8 L647.90 645.7 L648.07 644.6 L648.23 649.4 L648.39 651.0 L648.55 651.7 L648.71 655.1 L648.87 653.2 L649.04 653.8 L649.20 654.3 L649.37 653.6 L649.53 655.0 L649.70 653.1 L649.86 655.3 L650.03 655.3 L650.19 655.9 L650.36 655.4 L650.54 655.9 L650.71 653.7 L650.88 656.4 L651.05 656.5 L651.22 659.6 L651.39 659.7 L651.56 658.8 L651.74 656.5 L651.91 656.6 L652.08 657.6 L652.25 655.8 L652.42 656.0 L652.59 658.3 L652.76 658.0 L652.94 660.2 L653.11 660.3 L653.28 659.6 L653.45 659.5 L653.62 660.6 L653.79 660.8 L653.96 658.4 L654.13 661.2 L654.31 661.6 L654.48 662.2 L654.65 661.1 L654.82 661.5 L654.99 661.0 L655.16 662.4 L655.33 660.8 L655.51 659.9 L655.68 662.3 L655.85 662.0 L656.02 662.7 L656.19 662.2 L656.36 659.3 L656.53 658.4 L656.71 659.9 L656.88 656.8 L657.05 658.7 L657.22 659.7 L657.39 660.1 L657.56 660.5 L657.73 659.3 L657.90 660.3 L658.06 657.5 L658.23 654.5 L658.39 653.1 L658.56 655.4 L658.72 653.0 L658.89 654.4 L659.05 654.7 L659.22 653.9 L659.40 654.6 L659.57 654.5 L659.74 652.5 L659.91 654.3 L660.08 653.8 L660.25 651.3 L660.42 654.3 L660.60 653.0 L660.77 655.3 L660.94 652.1 L661.11 651.7 L661.27 654.3 L661.44 654.8 L661.61 655.5 L661.78 655.8 L661.94 656.0 L662.11 656.2 L662.28 655.5 L662.45 654.1 L662.61 655.9 L662.78 656.4 L662.95 653.6 L663.12 655.8 L663.28 654.8 L663.45 655.4 L663.62 656.6 L663.79 657.8 L663.95 657.5 L664.12 656.6 L664.29 658.1 L664.46 657.9 L664.62 658.6 L664.79 659.4 L664.96 659.9 L665.13 659.0 L665.29 659.9 L665.46 660.2 L665.63 658.3 L665.80 660.1 L665.96 658.1 L666.13 659.2 L666.30 660.0 L666.47 660.3 L666.63 657.5 L666.80 656.4 L666.97 657.2 L667.14 657.3 L667.30 657.3 L667.47 654.1 L667.64 656.3 L667.81 657.8 L667.98 655.7 L668.14 655.2 L668.31 655.2 L668.48 653.9 L668.65 652.7 L668.81 654.0 L668.98 653.0 L669.15 652.9 L669.32 652.9 L669.48 655.3 L669.65 654.0 L669.82 653.3 L669.99 651.5 L670.16 653.4 L670.33 652.5 L670.50 651.8 L670.67 653.6 L670.84 652.9 L671.01 652.2 L671.19 652.6 L671.36 653.1 L671.53 653.0 L671.70 650.2 L671.87 649.8 L672.04 652.8 L672.21 651.1 L672.38 650.9 L672.56 650.7 L672.73 650.6 L672.90 652.1 L673.07 652.9 L673.24 652.4 L673.41 652.4 L673.58 655.5 L673.76 655.0 L673.93 656.6 L674.10 655.9 L674.27 656.9 L674.44 657.5 L674.61 656.7 L674.78 654.6 L674.96 653.0 L675.13 653.6 L675.30 654.0 L675.47 656.6 L675.64 656.2 L675.81 655.2 L675.98 653.3 L676.15 651.7 L676.33 653.0 L676.50 652.5 L676.67 654.7 L676.84 654.3 L677.01 651.0 L677.18 653.1 L677.35 650.9 L677.53 651.9 L677.70 649.7 L677.87 649.3 L678.04 649.3 L678.21 648.2 L678.38 648.2 L678.55 648.7 L678.73 650.4 L678.90 651.0 L679.07 652.8 L679.24 648.2 L679.41 648.3 L679.58 649.9 L679.76 647.1 L679.93 647.1 L680.11 648.4 L680.28 650.2 L680.45 649.4 L680.63 648.6 L680.80 647.2 L680.98 647.6 L681.15 646.9 L681.32 646.8 L681.50 645.0 L681.67 645.1 L681.85 643.5 L682.02 642.4 L682.20 642.2 L682.37 642.0 L682.55 642.0 L682.72 642.1 L682.90 641.4 L683.07 642.6 L683.25 645.4 L683.42 641.8 L683.60 641.5 L683.77 641.7 L683.95 641.5 L684.12 642.6 L684.29 642.9 L684.46 641.6 L684.63 646.2 L684.79 647.4 L684.96 646.1 L685.13 648.1 L685.30 647.1 L685.46 646.4 L685.63 646.9 L685.80 649.4 L685.96 648.8 L686.13 648.0 L686.29 646.1 L686.46 647.8 L686.62 646.9 L686.79 648.1 L686.95 648.7 L687.12 646.3 L687.29 645.5 L687.45 645.3 L687.62 644.1 L687.79 646.9 L687.96 647.3 L688.12 645.4 L688.29 643.1 L688.46 644.2 L688.63 643.7 L688.79 644.2 L688.96 644.9 L689.13 642.9 L689.30 643.1 L689.46 643.0 L689.63 641.4 L689.80 640.8 L689.97 640.4 L690.13 638.6 L690.30 641.3 L690.47 645.3 L690.64 649.3 L690.80 649.5 L690.97 645.7 L691.14 642.9 L691.31 645.8 L691.48 646.6 L691.64 642.1 L691.80 647.2 L691.96 650.7 L692.12 652.4 L692.28 647.3 L692.44 649.6 L692.61 650.8 L692.76 648.8 L692.92 649.0 L693.08 660.2 L693.23 657.9 L693.39 658.3 L693.55 659.5 L693.71 654.6 L693.86 659.4 L694.02 658.0 L694.18 652.7 L694.33 651.8 L694.49 650.8 L694.66 652.0 L694.83 647.0 L694.99 648.3 L695.16 645.4 L695.33 644.0 L695.50 641.8 L695.66 640.4 L695.83 643.2 L696.00 641.3 L696.17 640.2 L696.33 648.9 L696.50 642.1 L696.67 640.1 L696.84 639.5 L697.00 643.8 L697.17 636.6 L697.34 638.7 L697.51 637.3 L697.67 642.9 L697.84 638.7 L698.01 641.2 L698.18 640.0 L698.34 633.8 L698.51 632.0 L698.68 628.8 L698.85 629.5 L699.02 633.5 L699.18 631.9 L699.34 636.1 L699.50 635.5 L699.66 632.6 L699.82 631.7 L699.98 627.8 L700.15 628.6 L700.31 630.3 L700.47 625.9 L700.63 630.4 L700.79 632.1 L700.95 634.3 L701.12 634.9 L701.28 635.1 L701.44 639.0 L701.61 642.9 L701.77 640.2 L701.94 642.6 L702.10 638.6 L702.27 644.1 L702.43 641.1 L702.60 642.9 L702.76 647.0 L702.93 645.3 L703.09 646.8 L703.26 651.0 L703.42 649.1 L703.59 651.4 L703.75 654.9 L703.92 652.6 L704.08 650.0 L704.24 648.6 L704.40 648.0 L704.56 648.8 L704.72 642.0 L704.89 642.3 L705.05 642.8 L705.21 646.7 L705.38 639.6 L705.55 637.4 L705.72 641.3 L705.88 640.2 L706.05 642.7 L706.22 640.2 L706.39 636.9 L706.56 637.1 L706.72 640.1 L706.89 640.0 L707.06 638.0 L707.23 636.6 L707.39 638.3 L707.56 637.5 L707.73 635.7 L707.90 635.9 L708.06 632.3 L708.21 629.1 L708.36 632.7 L708.52 635.2 L708.67 636.9 L708.82 631.1 L708.98 629.1 L709.14 632.4 L709.30 631.6 L709.46 627.9 L709.63 632.6 L709.79 632.7 L709.95 636.8 L710.11 635.9 L710.27 640.3 L710.43 643.0 L710.59 643.7 L710.76 646.5 L710.92 643.2 L711.08 645.2 L711.25 642.1 L711.41 645.5 L711.58 648.3 L711.75 645.6 L711.92 646.1 L712.08 642.6 L712.25 643.4 L712.42 646.1 L712.59 645.9 L712.75 640.1 L712.92 639.6 L713.09 639.4 L713.26 641.4 L713.42 638.5 L713.59 644.1 L713.76 646.8 L713.93 644.5 L714.10 641.8 L714.26 641.1 L714.43 640.7 L714.60 638.2 L714.77 637.2 L714.93 639.6 L715.10 636.7 L715.27 635.8 L715.44 635.7 L715.60 636.9 L715.77 636.4 L715.95 632.9 L716.12 637.5 L716.29 639.0 L716.46 637.3 L716.63 638.8 L716.80 640.1 L716.97 636.1 L717.15 634.9 L717.32 632.4 L717.49 633.0 L717.66 631.1 L717.82 632.0 L717.99 633.6 L718.16 637.1 L718.33 636.8 L718.49 636.4 L718.66 634.5 L718.83 631.5 L719.00 630.3 L719.16 629.9 L719.33 631.4 L719.50 637.2 L719.67 635.4 L719.83 632.3 L720.00 627.8 L720.17 631.0 L720.34 630.3 L720.50 634.0 L720.67 634.4 L720.83 637.1 L721.00 639.1 L721.16 642.6 L721.33 638.5 L721.49 637.7 L721.66 637.0 L721.82 640.0 L721.99 636.6 L722.15 635.8 L722.32 639.6 L722.48 636.1 L722.65 643.7 L722.81 634.7 L722.98 638.4 L723.14 636.0 L723.31 633.1 L723.48 630.7 L723.65 632.7 L723.81 634.9 L723.98 633.0 L724.15 631.0 L724.32 629.9 L724.48 629.8 L724.65 631.0 L724.82 633.5 L724.99 630.9 L725.15 629.5 L725.32 632.0 L725.49 629.7 L725.66 632.8 L725.82 630.0 L725.99 629.6 L726.16 632.0 L726.32 632.2 L726.49 630.6 L726.65 632.1 L726.82 632.9 L726.98 637.3 L727.15 635.6 L727.31 634.4 L727.48 639.0 L727.64 636.9 L727.81 637.2 L727.97 635.9 L728.14 638.8 L728.30 637.8 L728.47 634.8 L728.63 639.9 L728.80 631.3 L728.97 630.8 L729.13 627.5 L729.30 634.0 L729.47 631.4 L729.64 631.2 L729.80 629.4 L729.97 631.2 L730.14 625.8 L730.31 624.7 L730.47 621.8 L730.63 626.8 L730.79 631.8 L730.95 634.4 L731.11 635.7 L731.28 630.0 L731.44 634.9 L731.59 634.5 L731.75 641.0 L731.91 641.9 L732.07 643.2 L732.22 644.0 L732.38 641.6 L732.54 637.3 L732.71 631.1 L732.87 636.9 L733.04 635.0 L733.20 630.0 L733.37 632.0 L733.53 629.5 L733.70 629.2 L733.86 631.5 L734.03 623.0 L734.19 620.0 L734.36 622.0 L734.52 622.1 L734.69 625.6 L734.85 622.6 L735.02 622.2 L735.18 626.6 L735.35 618.9 L735.51 614.5 L735.68 614.0 L735.84 614.9 L736.01 612.3 L736.17 614.6 L736.34 614.6 L736.51 616.8 L736.67 617.0 L736.84 617.5 L737.01 616.2 L737.18 615.3 L737.34 609.3 L737.51 610.3 L737.68 608.6 L737.85 610.4 L738.01 607.2 L738.18 614.9 L738.35 609.5 L738.52 614.8 L738.68 612.7 L738.85 615.1 L739.02 612.3 L739.19 610.5 L739.35 608.6 L739.52 605.5 L739.68 608.2 L739.84 605.8 L740.00 608.4 L740.16 608.4 L740.32 609.2 L740.49 606.4 L740.65 610.7 L740.81 603.8 L740.97 607.5 L741.13 600.4 L741.29 603.3 L741.45 600.5 L741.62 599.5 L741.78 602.4 L741.94 602.7 L742.10 603.8 L742.27 605.4 L742.43 605.7 L742.59 610.6 L742.75 611.2 L742.92 612.3 L743.08 613.8 L743.24 614.0 L743.40 612.8 L743.56 618.0 L743.72 622.2 L743.89 618.6 L744.05 623.2 L744.21 628.8 L744.38 628.3 L744.54 632.9 L744.71 624.3 L744.87 632.0 L745.04 629.8 L745.20 632.8 L745.37 633.1 L745.52 636.1 L745.68 635.2 L745.84 632.2 L746.00 631.6 L746.15 629.1 L746.31 626.8 L746.47 629.9 L746.63 622.0 L746.79 622.7 L746.96 621.7 L747.12 620.1 L747.28 621.9 L747.44 620.2 L747.60 619.0 L747.76 620.2 L747.93 618.1 L748.09 618.5 L748.25 620.8 L748.41 618.2 L748.57 614.7 L748.73 612.8 L748.90 617.5 L749.06 618.2 L749.22 617.0 L749.38 615.5 L749.54 611.0 L749.70 611.8 L749.86 614.0 L750.03 611.3 L750.19 611.3 L750.35 614.7 L750.51 623.5 L750.67 623.7 L750.83 620.9 L751.00 625.5 L751.16 628.4 L751.32 630.0 L751.48 627.4 L751.64 628.2 L751.80 635.5 L751.97 634.9 L752.13 635.4 L752.29 632.5 L752.45 629.6 L752.61 629.2 L752.77 633.6 L752.93 635.3 L753.10 635.2 L753.26 636.3 L753.42 635.5 L753.58 631.0 L753.74 629.8 L753.90 629.1 L754.07 623.4 L754.23 624.8 L754.39 626.6 L754.56 626.0 L754.73 624.1 L754.90 630.9 L755.06 627.7 L755.23 626.7 L755.40 619.9 L755.57 622.8 L755.74 618.2 L755.91 617.2 L756.08 615.7 L756.25 611.9 L756.42 615.8 L756.59 611.7 L756.76 616.2 L756.93 612.9 L757.11 617.8 L757.28 617.0 L757.45 619.1 L757.62 613.5 L757.79 616.1 L757.95 619.0 L758.11 619.5 L758.28 619.0 L758.44 617.8 L758.61 611.9 L758.77 611.9 L758.94 620.2 L759.10 620.5 L759.27 614.3 L759.43 617.7 L759.60 624.4 L759.76 626.1 L759.93 626.5 L760.09 625.4 L760.26 629.0 L760.43 624.4 L760.59 626.0 L760.76 631.4 L760.93 628.9 L761.10 630.5 L761.26 630.9 L761.43 628.5 L761.60 628.0 L761.77 632.9 L761.93 628.8 L762.10 632.8 L762.27 636.3 L762.44 639.4 L762.60 640.5 L762.77 636.5 L762.94 643.1 L763.11 643.4 L763.28 642.7 L763.44 638.3 L763.60 642.0 L763.76 643.6 L763.92 643.5 L764.08 641.3 L764.24 637.9 L764.41 635.9 L764.57 636.2 L764.73 635.2 L764.89 630.5 L765.05 626.9 L765.21 628.4 L765.38 637.0 L765.54 629.4 L765.70 630.5 L765.87 633.2 L766.04 627.9 L766.21 621.7 L766.38 624.8 L766.54 624.7 L766.71 621.7 L766.88 627.5 L767.05 624.8 L767.21 625.0 L767.37 619.1 L767.53 624.3 L767.69 626.3 L767.85 626.0 L768.01 626.3 L768.18 620.1 L768.34 623.6 L768.51 624.1 L768.68 623.1 L768.85 621.5 L769.01 625.9 L769.18 625.9 L769.35 628.2 L769.52 623.2 L769.68 625.3 L769.85 626.8 L770.02 629.8 L770.19 622.8 L770.35 624.1 L770.52 623.5 L770.69 625.4 L770.86 626.0 L771.02 628.3 L771.19 628.7 L771.36 629.5 L771.53 627.4 L771.69 629.1 L771.86 630.2 L772.03 625.0 L772.20 629.8 L772.37 629.1 L772.53 629.6 L772.70 622.9 L772.87 622.6 L773.04 621.1 L773.20 615.6 L773.37 620.1 L773.54 614.5 L773.71 610.5 L773.87 609.7 L774.04 609.3 L774.21 614.5 L774.38 607.7 L774.54 608.8 L774.71 618.0 L774.88 617.4 L775.05 612.3 L775.21 615.8 L775.38 613.5 L775.55 604.9 L775.72 606.2 L775.88 599.5 L776.05 602.6 L776.22 601.9 L776.39 601.4 L776.55 599.4 L776.72 601.6 L776.89 604.3 L777.06 599.2 L777.22 601.9 L777.39 598.9 L777.56 598.0 L777.73 603.5 L777.89 602.4 L778.06 599.7 L778.23 591.5 L778.40 593.6 L778.56 592.9 L778.73 593.9 L778.89 596.5 L779.06 592.7 L779.22 598.1 L779.38 594.7 L779.54 593.1 L779.70 590.4 L779.86 589.8 L780.02 594.0 L780.18 592.1 L780.33 586.9 L780.49 586.1 L780.65 588.0 L780.81 586.7 L780.97 586.4 L781.14 588.2 L781.30 591.0 L781.47 587.7 L781.63 589.8 L781.80 586.7 L781.96 587.1 L782.13 591.6 L782.29 595.9 L782.46 594.6 L782.63 598.4 L782.80 598.6 L782.96 592.4 L783.13 589.5 L783.30 597.2 L783.47 596.3 L783.63 595.9 L783.80 597.2 L783.97 594.9 L784.14 593.6 L784.30 594.6 L784.47 595.5 L784.64 592.6 L784.81 590.1 L784.97 596.6 L785.14 592.3 L785.31 588.8 L785.48 589.7 L785.64 590.1 L785.81 591.6 L785.98 594.9 L786.15 593.4 L786.31 592.3 L786.48 594.4 L786.65 590.6 L786.82 591.1 L786.98 586.5 L787.15 588.9 L787.32 588.4 L787.49 583.5 L787.65 586.4 L787.82 592.4 L787.99 587.9 L788.16 588.3 L788.32 589.8 L788.48 588.2 L788.64 590.2 L788.80 590.0 L788.97 587.8 L789.13 585.2 L789.29 583.6 L789.45 579.5 L789.60 581.5 L789.76 578.0 L789.92 577.8 L790.07 579.7 L790.23 580.1 L790.40 578.6 L790.56 581.5 L790.73 583.2 L790.89 583.2 L791.06 583.9 L791.22 582.9 L791.39 590.4 L791.55 588.1 L791.72 591.0 L791.89 593.8 L792.05 588.3 L792.22 587.0 L792.39 587.3 L792.56 590.3 L792.72 589.6 L792.89 587.6 L793.06 589.7 L793.22 585.3 L793.39 592.3 L793.55 594.7 L793.72 589.9 L793.88 598.0 L794.05 595.5 L794.21 595.2 L794.38 596.0 L794.54 593.9 L794.71 593.7 L794.87 595.8 L795.04 596.9 L795.20 591.9 L795.37 590.7 L795.53 587.7 L795.70 588.9 L795.87 587.5 L796.03 586.8 L796.20 589.2 L796.37 585.1 L796.54 587.1 L796.70 589.0 L796.87 586.3 L797.04 584.6 L797.21 585.5 L797.38 584.3 L797.55 583.3 L797.72 584.4 L797.89 580.7 L798.06 580.7 L798.23 584.0 L798.41 579.7 L798.58 582.5 L798.75 584.5 L798.92 581.6 L799.09 582.0 L799.26 586.3 L799.43 585.0 L799.60 584.8 L799.78 585.3 L799.95 581.8 L800.12 584.4 L800.29 580.0 L800.46 577.9 L800.63 578.3 L800.80 579.2 L800.98 580.2 L801.14 583.5 L801.31 582.8 L801.47 583.3 L801.64 582.9 L801.80 582.9 L801.97 579.8 L802.13 580.8 L802.30 578.6 L802.46 580.8 L802.63 583.3 L802.80 581.6 L802.97 578.2 L803.13 579.4 L803.30 586.0 L803.47 580.3 L803.64 575.3 L803.80 579.4 L803.97 583.0 L804.14 583.5 L804.31 580.4 L804.47 581.9 L804.64 580.1 L804.81 584.1 L804.98 587.8 L805.14 587.5 L805.31 586.8 L805.48 588.0 L805.65 584.0 L805.82 587.6 L805.99 585.1 L806.16 581.8 L806.33 581.8 L806.50 581.6 L806.67 581.0 L806.84 580.8 L807.01 584.0 L807.18 587.3 L807.35 583.3 L807.52 587.3 L807.69 585.3 L807.86 585.1 L808.04 585.7 L808.21 586.2 L808.38 585.2 L808.55 580.1 L808.72 576.4 L808.89 580.6 L809.06 576.3 L809.23 575.0 L809.40 573.7 L809.56 582.6 L809.73 579.9 L809.90 573.2 L810.07 577.6 L810.23 574.1 L810.40 574.6 L810.57 574.1 L810.74 574.8 L810.91 575.6 L811.09 577.5 L811.26 579.1 L811.43 569.9 L811.60 572.4 L811.77 576.7 L811.94 577.5 L812.11 569.9 L812.29 571.2 L812.45 571.0 L812.62 570.5 L812.79 573.4 L812.96 571.4 L813.12 566.5 L813.29 564.4 L813.46 566.0 L813.63 570.0 L813.79 570.2 L813.96 567.4 L814.13 568.5 L814.30 567.1 L814.46 562.5 L814.63 559.8 L814.80 567.1 L814.97 563.9 L815.13 563.2 L815.30 563.4 L815.47 564.0 L815.64 564.6 L815.80 559.5 L815.97 558.0 L816.14 558.9 L816.31 559.3 L816.47 555.6 L816.64 550.1 L816.81 555.7 L816.98 557.7 L817.14 558.8 L817.31 555.6 L817.48 548.2 L817.65 548.7 L817.81 556.5 L817.98 554.5 L818.15 552.9 L818.32 548.6 L818.49 545.0 L818.65 549.6 L818.82 549.5 L818.99 547.7 L819.16 550.9 L819.32 550.5 L819.49 549.4 L819.66 546.2 L819.83 544.8 L819.99 548.0 L820.16 546.2 L820.33 539.9 L820.50 540.0 L820.66 539.4 L820.83 541.1 L821.00 544.4 L821.17 541.4 L821.33 538.7 L821.50 540.5 L821.67 540.3 L821.84 535.9 L822.00 537.4 L822.17 537.0 L822.34 537.0 L822.51 530.6 L822.67 528.7 L822.84 530.6 L823.01 531.3 L823.18 534.8 L823.34 528.9 L823.51 534.6 L823.68 528.7 L823.85 526.5 L824.01 534.8 L824.18 527.5 L824.35 528.9 L824.52 531.3 L824.68 532.7 L824.85 531.6 L825.02 529.5 L825.19 532.3 L825.36 528.2 L825.52 526.4 L825.69 526.2 L825.86 523.4 L826.04 522.2 L826.22 525.7 L826.39 527.7 L826.57 523.7 L826.75 519.7 L826.93 517.7 L827.11 516.4 L827.29 515.2 L827.47 515.3 L827.65 514.6 L827.83 518.1 L828.01 511.4 L828.19 510.9 L828.36 514.3 L828.54 511.7 L828.72 511.1 L828.89 512.3 L829.06 511.2 L829.23 507.7 L829.39 509.4 L829.56 511.6 L829.73 505.0 L829.90 510.1 L830.06 505.0 L830.23 506.7 L830.40 505.8 L830.56 506.7 L830.73 510.5 L830.89 508.7 L831.06 506.5 L831.22 504.2 L831.39 506.0 L831.55 506.0 L831.72 508.1 L831.89 507.8 L832.05 510.0 L832.22 509.1 L832.39 506.7 L832.56 504.3 L832.72 505.2 L832.89 505.7 L833.06 500.6 L833.23 501.0 L833.39 499.4 L833.56 500.6 L833.73 502.5 L833.90 494.4 L834.06 496.0 L834.23 500.3 L834.40 493.3 L834.57 497.0 L834.73 496.4 L834.90 494.5 L835.07 498.1 L835.24 499.8 L835.40 497.5 L835.57 499.3 L835.74 498.1 L835.91 498.7 L836.07 495.3 L836.24 498.2 L836.41 498.3 L836.58 496.7 L836.74 494.7 L836.91 492.7 L837.08 488.7 L837.25 496.7 L837.41 492.4 L837.58 489.7 L837.75 494.3 L837.91 494.6 L838.08 487.7 L838.24 496.8 L838.41 495.8 L838.57 496.2 L838.74 504.6 L838.90 497.9 L839.06 501.8 L839.23 504.6 L839.39 499.1 L839.55 499.6 L839.71 500.0 L839.87 503.9 L840.03 502.6 L840.19 501.9 L840.35 496.3 L840.50 492.9 L840.66 494.9 L840.82 500.4 L840.98 494.7 L841.14 490.1 L841.31 492.8 L841.48 495.8 L841.65 493.9 L841.81 494.2 L841.98 493.0 L842.15 492.5 L842.32 496.9 L842.48 491.8 L842.65 491.8 L842.82 490.2 L842.99 495.3 L843.15 491.5 L843.32 491.1 L843.49 485.3 L843.66 487.9 L843.82 489.3 L843.99 487.3 L844.15 482.2 L844.31 481.3 L844.48 480.5 L844.64 480.5 L844.80 486.6 L844.96 487.5 L845.12 481.7 L845.29 481.9 L845.45 485.3 L845.62 480.3 L845.78 486.3 L845.95 488.6 L846.11 486.3 L846.28 487.6 L846.44 485.0 L846.60 481.6 L846.77 483.3 L846.93 483.3 L847.09 491.5 L847.25 489.8 L847.41 491.3 L847.57 490.0 L847.74 487.7 L847.90 491.6 L848.07 490.5 L848.23 487.5 L848.40 489.8 L848.56 488.2 L848.73 485.2 L848.89 484.6 L849.05 478.5 L849.22 475.9 L849.38 476.0 L849.54 478.0 L849.70 482.3 L849.86 480.0 L850.02 480.6 L850.19 481.0 L850.35 472.4 L850.52 471.9 L850.68 472.1 L850.85 473.8 L851.01 472.9 L851.18 470.4 L851.34 474.3 L851.51 479.3 L851.67 480.4 L851.84 474.6 L852.00 474.9 L852.17 476.6 L852.33 475.7 L852.50 468.8 L852.66 471.9 L852.83 470.4 L853.00 467.0 L853.17 468.3 L853.33 469.1 L853.50 466.6 L853.67 462.7 L853.84 461.7 L854.00 462.2 L854.17 465.7 L854.34 465.6 L854.51 466.1 L854.67 462.7 L854.84 461.8 L855.01 465.9 L855.18 463.1 L855.34 468.4 L855.51 468.0 L855.68 463.3 L855.84 460.5 L856.01 460.6 L856.17 457.9 L856.34 458.3 L856.50 458.3 L856.67 457.5 L856.83 462.5 L857.00 459.3 L857.16 458.4 L857.32 460.5 L857.48 463.2 L857.64 461.2 L857.81 463.7 L857.97 468.5 L858.13 465.3 L858.29 468.0 L858.45 471.4 L858.61 471.4 L858.78 473.8 L858.94 467.3 L859.10 462.6 L859.26 467.3 L859.42 468.3 L859.58 467.8 L859.74 463.6 L859.91 474.5 L860.07 480.4 L860.23 475.4 L860.39 474.3 L860.55 471.8 L860.71 477.8 L860.88 480.0 L861.04 480.2 L861.20 486.0 L861.36 479.9 L861.52 479.0 L861.68 479.1 L861.84 481.2 L861.99 483.3 L862.15 486.2 L862.31 479.6 L862.46 487.4 L862.62 482.7 L862.77 489.1 L862.92 493.5 L863.07 498.7 L863.22 497.5 L863.36 497.2 L863.50 499.8 L863.64 497.3 L863.78 505.2 L863.93 501.6 L864.09 493.0 L864.24 505.4 L864.39 498.5 L864.54 497.3 L864.70 502.4 L864.85 497.6 L865.01 493.1 L865.17 487.1 L865.32 485.2 L865.48 487.7 L865.65 485.7 L865.82 490.7 L865.98 490.5 L866.15 495.9 L866.32 493.7 L866.49 491.8 L866.65 484.7 L866.82 485.9 L866.99 486.4 L867.16 484.7 L867.32 485.4 L867.49 485.5 L867.66 486.6 L867.83 489.0 L867.99 490.1 L868.16 486.5 L868.33 491.6 L868.50 489.2 L868.66 491.6 L868.83 498.2 L869.00 498.0 L869.17 494.8 L869.33 494.5 L869.50 494.8 L869.67 493.4 L869.84 491.8 L870.00 492.5 L870.17 499.1 L870.33 506.0 L870.49 497.9 L870.65 498.6 L870.81 494.1 L870.97 494.3 L871.14 493.3 L871.29 501.7 L871.45 494.2 L871.61 498.5 L871.76 493.1 L871.92 497.2 L872.08 501.9 L872.22 495.3 L872.36 501.0 L872.50 509.2 L872.64 518.1 L872.80 507.5 L872.96 513.8 L873.11 512.1 L873.27 506.9 L873.43 515.0 L873.59 509.4 L873.75 509.5 L873.92 515.0 L874.08 511.1 L874.25 508.0 L874.41 510.6 L874.58 505.5 L874.74 504.7 L874.91 503.1 L875.07 502.3 L875.24 507.3 L875.40 508.2 L875.57 513.9 L875.73 512.8 L875.90 504.8 L876.06 509.1 L876.23 509.4 L876.39 509.3 L876.55 515.4 L876.71 516.6 L876.87 509.0 L877.03 521.4 L877.19 518.8 L877.36 515.6 L877.52 514.5 L877.68 520.1 L877.84 516.6 L878.00 516.7 L878.16 513.4 L878.33 521.3 L878.49 525.4 L878.65 532.9 L878.81 533.5 L878.97 534.5 L879.13 532.1 L879.30 538.5 L879.46 532.4 L879.62 537.8 L879.78 541.2 L879.93 538.4 L880.09 536.0 L880.25 545.6 L880.40 554.0 L880.56 548.4 L880.72 555.6 L880.88 553.3 L881.05 550.2 L881.21 545.7 L881.37 553.1 L881.53 550.9 L881.69 552.4 L881.85 552.3 L882.01 553.3 L882.18 548.0 L882.34 548.9 L882.50 547.2 L882.66 547.0 L882.82 545.4 L882.98 544.7 L883.15 542.0 L883.31 548.3 L883.47 548.3 L883.63 551.0 L883.79 554.7 L883.95 552.2 L884.10 550.2 L884.26 547.8 L884.41 548.5 L884.56 548.9 L884.71 544.6 L884.86 547.5 L885.01 554.9 L885.16 556.7 L885.31 552.3 L885.46 561.5 L885.61 560.6 L885.76 552.8 L885.91 549.4 L886.07 542.1 L886.22 542.5 L886.37 540.9 L886.52 553.9 L886.67 560.6 L886.82 560.1 L886.97 568.4 L887.12 557.2 L887.27 552.7 L887.42 545.9 L887.57 547.3 L887.72 543.4 L887.87 544.1 L888.03 552.9 L888.18 561.7 L888.33 565.4 L888.48 575.0 L888.63 564.6 L888.78 565.6 L888.93 564.0 L889.08 552.4 L889.23 542.7 L889.38 553.5 L889.53 547.2 L889.68 557.8 L889.84 560.1 L889.99 573.5 L890.14 564.4 L890.29 555.2 L890.44 555.8 L890.59 555.7 L890.74 544.4 L890.89 552.9 L891.04 559.2 L891.19 562.1 L891.34 567.4 L891.49 577.4 L891.64 576.5 L891.80 566.7 L891.95 549.4 L892.10 551.9 L892.25 547.7 L892.40 545.9 L892.55 553.9 L892.70 563.3 L892.85 569.9 L893.00 579.1 L893.15 569.3 L893.30 568.0 L893.45 549.8 L893.61 551.1 L893.76 547.9 L893.91 552.7 L894.06 563.2 L894.21 574.6 L894.36 573.1 L894.51 580.1 L894.66 569.7 L894.81 566.6 L894.96 559.4 L895.11 550.3 L895.26 552.0 L895.41 559.6 L895.57 564.4 L895.72 575.5 L895.87 571.1 L896.02 580.9 L896.17 583.2 L896.32 572.4 L896.47 565.1 L896.62 568.2 L896.77 562.5 L896.92 565.2 L897.07 566.9 L897.22 560.8 L897.38 559.0 L897.53 561.5 L897.70 557.8 L897.87 559.9 L898.04 559.8 L898.21 556.2 L898.38 558.8 L898.55 556.5 L898.73 557.0 L898.90 556.1 L899.07 557.0 L899.24 557.8 L899.41 558.7 L899.58 560.0 L899.75 556.3 L899.91 559.4 L900.08 556.6 L900.25 556.0 L900.42 558.0 L900.58 556.4 L900.75 556.7 L900.92 556.6 L901.09 556.6 L901.25 557.2 L901.42 556.7 L901.59 563.2 L901.76 559.2 L901.92 555.8 L902.09 556.2 L902.26 557.2 L902.43 556.6 L902.59 556.9 L902.76 559.9 L902.93 559.2 L903.10 558.3 L903.26 556.2 L903.43 558.7 L903.60 558.7 L903.77 558.3 L903.93 561.3 L904.10 564.4 L904.27 562.8 L904.44 568.8 L904.61 570.6 L904.77 562.9 L904.94 559.6 L905.11 562.6 L905.28 563.2 L905.44 565.8 L905.61 565.9 L905.78 566.2 L905.95 567.5 L906.11 565.4 L906.28 568.0 L906.45 569.0 L906.62 570.9 L906.78 571.0 L906.95 572.3 L907.11 574.5 L907.27 573.8 L907.44 574.9 L907.60 573.8 L907.76 573.9 L907.92 573.8 L908.08 576.2 L908.24 575.2 L908.41 575.8 L908.57 577.8 L908.73 577.6 L908.89 580.6 L909.05 580.7 L909.21 582.9 L909.36 583.5 L909.51 586.7 L909.67 588.4 L909.82 588.8 L909.97 589.8 L910.02 592.2 L910.13 599.6 L910.24 606.7 L910.38 611.2 L910.52 617.0 L910.66 621.3 L910.81 626.0 L910.95 631.1 L911.09 632.7 L911.23 636.9 L911.37 639.9 L911.52 644.8 L911.67 643.8 L911.82 646.6 L911.97 648.6 L912.13 651.5 L912.28 655.1 L912.44 656.2 L912.60 657.6 L912.75 658.2 L912.91 657.1 L913.07 659.7 L913.22 659.0 L913.38 661.3 L913.54 662.9 L913.70 663.4 L913.85 665.2 L914.01 664.8 L914.17 666.6 L914.33 666.9 L914.50 666.3 L914.66 668.4 L914.82 667.9 L914.98 669.5 L915.14 669.4 L915.31 669.7 L915.48 670.7 L915.65 672.2 L915.82 670.3 L915.99 670.2 L916.16 670.9 L916.33 670.2 L916.50 672.0 L916.67 673.7 L916.84 673.3 L917.01 672.6 L917.18 673.1 L917.35 673.3 L917.52 673.8 L917.69 673.8 L917.87 673.1 L918.04 671.9 L918.21 672.1 L918.38 670.5 L918.55 672.6 L918.72 671.0 L918.89 671.8 L919.07 672.8 L919.24 671.9 L919.41 671.1 L919.58 673.1 L919.75 672.3 L919.92 672.8 L920.09 672.5 L920.27 671.3 L920.44 673.4 L920.61 673.4 L920.78 672.3 L920.95 673.9 L921.12 671.8 L921.29 671.6 L921.46 671.2 L921.64 673.7 L921.81 671.8 L921.98 672.8 L922.15 672.1 L922.32 672.3 L922.49 672.2 L922.67 671.2 L922.84 672.0 L923.02 671.2 L923.19 672.0 L923.37 671.3 L923.54 671.9 L923.72 672.7 L923.89 671.5 L924.07 673.2 L924.24 673.5 L924.42 674.7 L924.59 673.1 L924.77 674.2 L924.94 674.2 L925.12 672.3 L925.29 673.7 L925.47 673.9 L925.64 674.2 L925.81 674.2 L925.99 674.2 L926.16 673.2 L926.34 673.2 L926.51 674.1 L926.68 673.4 L926.86 674.9 L927.03 675.7 L927.21 675.4 L927.38 673.9 L927.55 676.1 L927.73 675.9 L927.90 676.1 L928.08 674.0 L928.25 673.6 L928.42 674.2 L928.60 673.2 L928.77 675.0 L928.95 673.5 L929.12 673.1 L929.29 672.2 L929.47 673.8 L929.64 674.1 L929.82 673.6 L929.99 673.0 L930.17 674.0 L930.34 673.5 L930.52 674.7 L930.69 673.6 L930.87 672.5 L931.04 671.2 L931.22 671.5 L931.39 671.6 L931.57 671.2 L931.74 671.4 L931.92 672.4 L932.09 671.6 L932.27 672.0 L932.44 671.6 L932.62 671.4 L932.79 671.5 L932.97 672.3 L933.14 671.6 L933.32 671.9 L933.49 671.4 L933.67 671.6 L933.84 673.3 L934.02 672.4 L934.19 673.2 L934.37 672.9 L934.54 673.7 L934.72 672.2 L934.89 671.1 L935.06 671.4 L935.24 673.3 L935.41 672.1 L935.59 670.9 L935.76 671.1 L935.93 670.4 L936.11 671.2 L936.28 670.4 L936.46 671.1 L936.63 671.5 L936.80 672.1 L936.98 672.8 L937.15 672.2 L937.33 672.2 L937.50 672.4 L937.67 670.6 L937.85 670.3 L938.02 670.3 L938.20 669.4 L938.37 670.2 L938.54 670.1 L938.72 672.1 L938.89 670.5 L939.07 670.0 L939.24 669.7 L939.41 669.5 L939.59 669.5 L939.76 670.5 L939.94 669.4 L940.11 670.3 L940.28 671.8 L940.46 671.4 L940.63 670.6 L940.81 671.1 L940.98 673.1 L941.15 672.8 L941.33 674.7 L941.50 672.1 L941.67 671.9 L941.85 673.7 L942.02 675.5 L942.19 674.7 L942.36 672.6 L942.54 673.3 L942.71 673.0 L942.88 673.2 L943.06 673.8 L943.23 674.9 L943.40 674.4 L943.58 674.9 L943.75 674.5 L943.93 673.5 L944.10 673.3 L944.28 673.6 L944.45 675.9 L944.63 675.8 L944.80 676.1 L944.98 674.6 L945.15 675.0 L945.33 676.0 L945.50 675.2 L945.68 674.1 L945.85 674.0 L946.03 675.3 L946.20 673.9 L946.37 675.6 L946.55 675.4 L946.72 676.9 L946.90 676.6 L947.07 677.2 L947.24 676.6 L947.42 676.7 L947.59 674.7 L947.77 676.0 L947.94 676.1 L948.11 676.1 L948.29 675.2 L948.46 674.6 L948.64 673.8 L948.81 674.9 L948.98 674.4 L949.16 673.9 L949.33 674.7 L949.51 673.7 L949.68 675.3 L949.85 673.0 L950.03 674.5 L950.20 675.0 L950.37 674.5 L950.55 674.5 L950.72 675.2 L950.89 673.9 L951.06 673.4 L951.23 673.1 L951.40 675.1 L951.57 674.5 L951.74 673.1 L951.92 672.2 L952.09 672.3 L952.26 671.1 L952.43 671.9 L952.60 673.5 L952.77 673.6 L952.94 672.4 L953.12 672.2 L953.29 671.0 L953.46 670.6 L953.63 671.0 L953.80 670.8 L953.97 671.5 L954.14 671.3 L954.32 670.5 L954.49 670.7 L954.66 671.5 L954.83 672.4 L955.00 672.1 L955.17 673.0 L955.34 672.3 L955.51 670.0 L955.69 672.3 L955.86 672.4 L956.03 672.1 L956.20 672.5 L956.37 672.4 L956.54 671.7 L956.71 672.2 L956.89 671.9 L957.06 670.9 L957.23 670.4 L957.40 670.5 L957.57 671.2 L957.74 671.2 L957.91 669.8 L958.09 670.4 L958.26 669.9 L958.43 669.7 L958.60 671.6 L958.77 672.3 L958.94 670.7 L959.11 671.2 L959.28 669.4 L959.46 668.7 L959.63 670.5 L959.80 669.8 L959.97 668.9 L960.14 669.9 L960.31 669.8 L960.48 670.8 L960.66 668.5 L960.83 668.6 L961.00 667.6 L961.17 668.3 L961.34 668.3 L961.51 668.5 L961.68 665.6 L961.85 664.9 L962.02 667.1 L962.18 666.4 L962.35 664.9 L962.52 665.5 L962.69 664.0 L962.85 665.5 L963.02 665.1 L963.19 665.9 L963.35 665.4 L963.52 663.9 L963.68 666.2 L963.85 669.5 L964.01 669.2 L964.18 668.4 L964.34 669.2 L964.51 669.0 L964.68 667.6 L964.84 668.3 L965.01 669.5 L965.18 668.1 L965.35 670.3 L965.51 669.9 L965.68 669.2 L965.85 669.1 L966.02 669.2 L966.19 668.9 L966.36 670.5 L966.53 670.4 L966.71 670.5 L966.88 667.5 L967.05 669.7 L967.22 668.5 L967.39 667.9 L967.56 669.4 L967.73 668.7 L967.90 667.5 L968.08 667.3 L968.25 667.2 L968.42 667.3 L968.59 666.0 L968.76 668.6 L968.93 667.8 L969.10 668.3 L969.28 669.0 L969.45 668.7 L969.62 667.3 L969.79 666.8 L969.96 667.8 L970.13 667.9 L970.30 668.2 L970.48 668.0 L970.65 666.7 L970.82 667.1 L970.99 666.4 L971.16 666.1 L971.33 664.9 L971.50 666.3 L971.67 666.8 L971.85 666.1 L972.02 667.1 L972.19 667.2 L972.36 667.1 L972.53 665.9 L972.70 666.5 L972.87 666.1 L973.05 663.4 L973.22 664.8 L973.39 664.7 L973.55 664.4 L973.72 665.0 L973.88 663.6 L974.05 663.7 L974.21 662.8 L974.38 661.9 L974.54 660.8 L974.71 660.7 L974.87 659.4 L975.03 660.3 L975.19 654.0 L975.35 656.6 L975.52 656.1 L975.68 653.4 L975.84 655.3 L976.00 654.4 L976.16 654.8 L976.32 656.2 L976.49 654.1 L976.65 648.8 L976.81 645.7 L976.97 648.8 L977.13 645.0 L977.29 650.8 L977.45 648.6 L977.62 643.5 L977.78 642.1 L977.94 641.5 L978.10 642.1 L978.26 641.5 L978.42 641.3 L978.59 644.4 L978.75 640.7 L978.91 640.1 L979.07 642.9 L979.23 640.2 L979.39 640.5 L979.56 643.1 L979.72 638.8 L979.88 638.2 L980.04 641.6 L980.20 641.2 L980.36 637.9 L980.52 636.9 L980.69 635.7 L980.85 634.3 L981.01 635.9 L981.17 636.3 L981.33 635.5 L981.49 632.5 L981.66 633.4 L981.82 633.0 L981.98 631.9 L982.14 633.2 L982.30 630.0 L982.46 629.2 L982.62 628.7 L982.79 626.8 L982.95 628.0 L983.11 627.9 L983.27 629.1 L983.43 628.8 L983.59 624.3 L983.76 623.5 L983.92 622.6 L984.08 618.6 L984.24 618.2 L984.40 617.4 L984.56 615.5 L984.73 618.1 L984.89 617.0 L985.04 617.7 L985.20 612.7 L985.36 616.7 L985.52 615.3 L985.67 615.6 L985.83 611.7 L985.98 611.9 L986.13 611.3 L986.28 609.2 L986.43 610.2 L986.58 605.2" fill="none" stroke="#07306f" stroke-width="3.9" stroke-linejoin="round" stroke-linecap="round"/>
<path d="M96.3 269.5 L98.2 269.5 L98.2 250.6 L103.5 250.6 L103.5 231.8 L109.1 231.8 L109.1 194.1 L135.5 194.1 L135.5 231.8 L139.7 231.8 L139.7 269.5 L143.8 269.5 L143.8 307.1 L147.2 307.1 L147.2 344.8 L150.0 344.8 L150.0 382.5 L154.4 382.5 L154.4 401.4 L159.5 401.4 L159.5 420.2 L163.3 420.2 L163.3 457.9 L164.6 457.9 L164.6 495.6 L168.9 495.6 L168.9 533.3 L173.3 533.3 L173.3 552.1 L207.6 552.1 L207.6 589.8 L232.6 589.8 L232.6 608.6 L272.6 608.6 L272.6 589.8 L277.3 589.8 L277.3 570.9 L282.4 570.9 L282.4 552.1 L287.0 552.1 L287.0 533.3 L291.0 533.3 L291.0 514.4 L296.4 514.4 L296.4 495.6 L300.9 495.6 L300.9 476.7 L305.6 476.7 L305.6 457.9 L312.2 457.9 L312.2 439.0 L316.9 439.0 L316.9 420.2 L321.3 420.2 L321.3 401.4 L325.5 401.4 L325.5 382.5 L330.2 382.5 L330.2 363.7 L335.5 363.7 L335.5 344.8 L341.6 344.8 L341.6 326.0 L346.8 326.0 L346.8 307.1 L351.9 307.1 L351.9 288.3 L400.0 288.3 L400.0 326.0 L404.7 326.0 L404.7 344.8 L409.4 344.8 L409.4 363.7 L413.2 363.7 L413.2 420.2 L414.2 420.2 L414.2 457.9 L419.9 457.9 L419.9 514.4 L423.6 514.4 L423.6 533.3 L441.5 533.3 L441.5 570.9 L443.8 570.9 L443.8 608.6 L449.1 608.6 L449.1 665.2 L728.0 665.2 L728.0 646.3 L768.0 646.3 L768.0 627.5 L778.0 627.5 L778.0 608.6 L788.3 608.6 L788.3 589.8 L809.0 589.8 L809.0 570.9 L818.8 570.9 L818.8 552.1 L828.3 552.1 L828.3 533.3 L839.8 533.3 L839.8 514.4 L848.9 514.4 L848.9 495.6 L873.4 495.6 L873.4 514.4 L878.7 514.4 L878.7 533.3 L883.6 533.3 L883.6 552.1 L898.1 552.1 L898.1 589.8 L898.6 589.8 L898.6 665.2 L975.3 665.2" fill="none" stroke="#2c9db8" stroke-width="3.6" stroke-linejoin="miter" stroke-linecap="butt"/>
<path d="M640.4 210.1 H655.3" stroke="#07306f" stroke-width="3.6" stroke-linecap="round"/>
<path d="M640.4 261.4 H655.3" stroke="#2c9db8" stroke-width="3.6" stroke-linecap="round"/>
<text class="leg" x="657.07" y="218.50" style="font-size:25.6px" textLength="244.35" lengthAdjust="spacingAndGlyphs">2-year Treasury yield</text>
<text class="leg" x="656.31" y="269.80" style="font-size:25.6px" textLength="171.89" lengthAdjust="spacingAndGlyphs">Fed Funds rate</text>
<path d="M939.6 652.3 C953 649, 967.5 641.5, 970.7 616.5" fill="none" stroke="#000" stroke-width="3.5" stroke-dasharray="11.8 5"/>
<path d="M972.2 605.6 L964.4 615.8 L976.6 617.9 Z" fill="#000"/>
<text class="src" x="29.38" y="773.40" style="font-size:20.6px" textLength="519.03" lengthAdjust="spacingAndGlyphs">Source: Bloomberg Finance L.P. Data as of January 20, 2022</text>
</svg>
</body></html>
